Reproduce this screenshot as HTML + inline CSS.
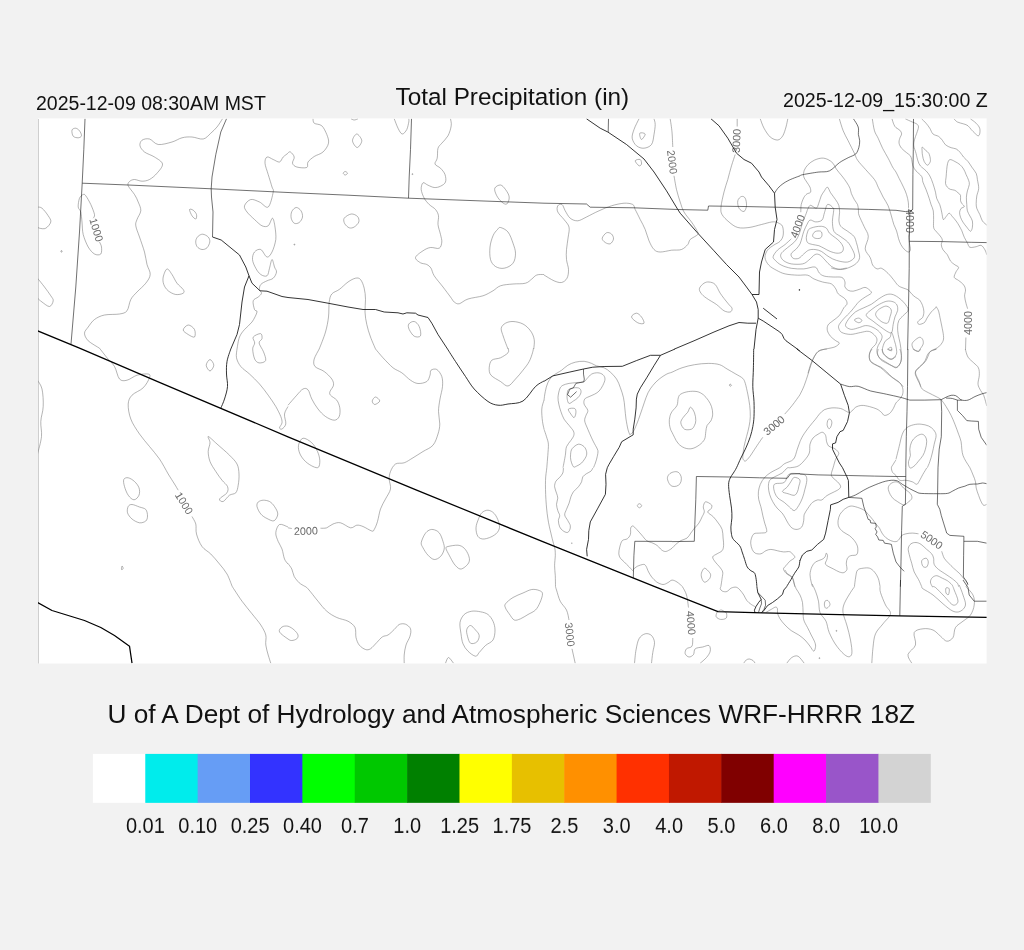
<!DOCTYPE html>
<html><head><meta charset="utf-8">
<style>
html,body{margin:0;padding:0;}
body{width:1024px;height:950px;background:#f2f2f2;position:relative;overflow:hidden;font-family:"Liberation Sans",sans-serif;color:#111;}
svg{position:absolute;left:0;top:0;will-change:transform;}
</style></head><body>
<svg id="lines" width="1024" height="950" viewBox="0 0 1024 950" fill="none">
<rect x="38" y="118.4" width="948.6" height="545.1" fill="#fff"/>
<rect x="38" y="119" width="1" height="544.5" fill="#cfcfcf"/>
<defs><clipPath id="mc"><rect x="38" y="118.4" width="948.6" height="545.1"/></clipPath></defs>
<g clip-path="url(#mc)">
<g stroke="#787878" stroke-width="0.56" fill="none">
<path d="M253.2,337.1 C254.2,335.5 259.1,333.4 260.6,333.6 C262.1,333.9 262.2,337.0 262.0,338.6 C261.8,340.2 258.9,340.8 259.1,343.0 C259.4,345.2 262.4,348.9 263.5,351.8 C264.6,354.7 266.3,358.8 265.6,360.6 C264.9,362.5 260.9,363.1 259.1,362.9 C257.3,362.6 255.8,361.4 254.7,359.1 C253.6,356.8 252.7,351.6 252.7,348.9 C252.7,346.2 254.6,345.0 254.7,343.0 C254.8,341.0 252.2,338.7 253.2,337.1Z"/>
<path d="M72.0,130.0 C72.4,128.7 74.5,128.1 75.8,128.2 C77.0,128.4 78.5,129.5 79.5,130.8 C80.5,132.0 81.7,134.6 81.5,135.8 C81.3,136.9 79.6,137.7 78.2,137.8 C76.9,137.8 74.3,137.5 73.2,136.2 C72.2,135.0 71.6,131.3 72.0,130.0Z"/>
<path d="M222.5,118.8 C221.6,120.1 219.0,124.6 217.0,127.0 C215.0,129.4 213.0,131.2 210.8,133.2 C208.5,135.2 206.4,138.4 203.2,139.0 C200.1,139.6 195.5,137.2 192.0,137.0 C188.5,136.8 185.3,136.9 182.0,137.8 C178.7,138.6 176.0,140.9 172.0,142.0 C168.0,143.1 162.0,145.0 158.2,144.5 C154.5,144.0 152.2,139.7 149.5,139.0 C146.8,138.3 143.6,139.1 142.0,140.2 C140.4,141.4 139.6,143.8 140.0,145.8 C140.4,147.7 142.1,150.1 144.5,152.0 C146.9,153.9 151.5,155.0 154.5,157.0 C157.5,159.0 162.1,161.3 162.5,164.0 C162.9,166.7 159.2,170.7 157.0,173.2 C154.8,175.8 152.0,178.2 149.5,179.5 C147.0,180.8 144.5,181.2 142.0,181.2 C139.5,181.2 136.6,179.5 134.5,179.5 C132.4,179.5 130.5,180.5 129.5,181.5 C128.5,182.5 127.4,183.6 128.2,185.8 C129.1,187.9 132.8,191.8 134.5,194.5 C136.2,197.2 137.2,199.3 138.2,202.0 C139.3,204.7 141.0,207.8 140.8,210.8 C140.5,213.7 137.8,217.0 137.0,219.5 C136.2,222.0 135.3,222.8 135.8,225.8 C136.2,228.7 138.0,232.6 139.5,237.0 C141.0,241.4 143.2,247.4 144.5,252.0 C145.8,256.6 146.0,260.8 147.0,264.5 C148.0,268.2 150.5,271.4 150.2,274.5 C150.0,277.6 148.0,280.3 145.8,283.2 C143.5,286.2 139.5,289.3 137.0,292.0 C134.5,294.7 132.4,296.4 130.8,299.5 C129.1,302.6 128.9,308.3 127.0,310.8 C125.1,313.2 123.2,313.3 119.5,314.0 C115.8,314.7 108.7,314.1 104.5,315.0 C100.3,315.9 97.2,317.5 94.5,319.5 C91.8,321.5 89.9,324.7 88.2,327.0 C86.6,329.3 84.5,331.0 84.5,333.2 C84.5,335.5 85.8,338.2 88.2,340.8 C90.8,343.2 97.6,347.0 99.5,348.2"/>
<path d="M93.2,218.2 C93.5,217.6 94.9,216.8 94.5,214.5 C94.1,212.2 92.2,207.6 90.8,204.5 C89.3,201.4 87.0,197.4 85.8,195.8 C84.5,194.1 84.3,194.1 83.2,194.5 C82.2,194.9 80.3,196.2 79.5,198.2 C78.7,200.3 78.0,204.7 78.2,207.0 C78.5,209.3 80.1,209.5 80.8,212.0 C81.4,214.5 81.6,218.2 82.0,222.0 C82.4,225.8 82.2,230.3 83.2,234.5 C84.3,238.7 86.4,243.8 88.2,247.0 C90.1,250.2 92.4,252.8 94.5,254.0 C96.6,255.2 99.6,255.2 100.8,254.0 C101.9,252.8 101.7,249.0 101.5,247.0 C101.3,245.0 99.8,242.8 99.5,242.0"/>
<path d="M37.5,207.0 C38.2,207.2 40.2,206.8 42.0,208.2 C43.8,209.7 46.8,213.5 48.2,215.8 C49.7,218.0 51.2,219.9 50.8,222.0 C50.3,224.1 47.6,227.2 45.8,228.2 C43.9,229.3 40.9,228.5 39.5,228.2 C38.1,228.0 37.8,227.2 37.5,227.0"/>
<path d="M37.5,278.2 C38.7,279.7 42.3,284.1 44.5,287.0 C46.7,289.9 49.3,293.5 50.8,295.8 C52.2,298.0 53.5,299.0 53.2,300.8 C53.0,302.5 51.4,306.3 49.5,306.5 C47.6,306.7 44.0,303.4 42.0,302.0 C40.0,300.6 38.2,298.9 37.5,298.2"/>
<path d="M61.0,250.8 C61.2,250.5 61.8,250.5 62.0,250.8 C62.2,251.0 62.2,251.8 62.0,252.0 C61.8,252.2 61.2,252.2 61.0,252.0 C60.8,251.8 60.8,251.0 61.0,250.8Z"/>
<path d="M189.5,209.5 C189.7,208.6 192.1,209.4 193.2,210.2 C194.4,211.1 196.1,213.0 196.5,214.5 C196.9,216.0 196.5,218.8 195.8,219.0 C195.0,219.2 193.0,217.3 192.0,215.8 C191.0,214.2 189.3,210.4 189.5,209.5Z"/>
<path d="M202.8,234.2 C204.4,234.4 207.1,235.7 208.2,237.0 C209.4,238.3 210.0,240.2 209.8,242.0 C209.5,243.8 208.3,246.5 207.0,247.8 C205.7,249.0 203.7,249.7 202.0,249.5 C200.3,249.3 198.0,248.0 197.0,246.5 C196.0,245.0 195.5,242.5 195.8,240.8 C196.0,239.0 197.1,237.3 198.2,236.2 C199.4,235.2 201.1,234.1 202.8,234.2Z"/>
<path d="M167.0,269.0 C168.5,268.6 170.3,272.1 172.0,274.5 C173.7,276.9 175.1,280.8 177.0,283.2 C178.9,285.8 182.2,287.8 183.2,289.5 C184.3,291.2 184.5,292.4 183.2,293.2 C182.0,294.1 178.2,294.9 175.8,294.5 C173.2,294.1 170.2,292.4 168.2,290.8 C166.2,289.1 164.6,286.8 163.8,284.5 C162.9,282.2 162.7,279.6 163.2,277.0 C163.8,274.4 165.5,269.4 167.0,269.0Z"/>
<path d="M188.2,325.0 C190.1,324.9 193.5,327.5 194.5,329.5 C195.5,331.5 195.5,336.2 194.5,337.0 C193.5,337.8 190.1,335.7 188.2,334.5 C186.4,333.3 183.2,331.6 183.2,330.0 C183.2,328.4 186.4,325.1 188.2,325.0Z"/>
<path d="M288.0,153.2 C287.2,153.9 284.7,155.5 283.2,157.0 C281.8,158.5 281.2,161.6 279.5,162.0 C277.8,162.4 275.3,160.3 273.2,159.5 C271.2,158.7 268.4,156.4 267.0,157.0 C265.6,157.6 264.8,160.3 265.0,163.2 C265.2,166.2 267.1,170.5 268.2,174.5 C269.4,178.5 271.2,184.1 272.0,187.0 C272.8,189.9 273.9,188.7 273.2,192.0 C272.6,195.3 270.5,205.3 268.2,207.0 C266.0,208.7 262.4,203.2 259.5,202.0 C256.6,200.8 253.2,198.9 250.8,199.5 C248.2,200.1 245.1,203.7 244.5,205.8 C243.9,207.8 245.3,209.7 247.0,212.0 C248.7,214.3 252.0,217.2 254.5,219.5 C257.0,221.8 259.7,224.7 262.0,225.8 C264.3,226.8 266.5,227.0 268.2,225.8 C270.0,224.5 271.4,218.0 272.5,218.2 C273.6,218.5 274.5,223.5 275.0,227.0 C275.5,230.5 276.2,235.3 275.8,239.5 C275.2,243.7 273.5,249.1 272.0,252.0 C270.5,254.9 268.9,257.4 267.0,257.0 C265.1,256.6 262.8,250.3 260.8,249.5 C258.7,248.7 255.9,250.3 254.5,252.0 C253.1,253.7 252.3,256.8 252.5,259.5 C252.7,262.2 254.4,265.8 255.8,268.2 C257.1,270.8 258.9,273.2 260.8,274.5 C262.6,275.8 265.5,276.8 267.0,275.8 C268.5,274.7 268.7,271.0 269.5,268.2 C270.3,265.5 271.2,259.7 272.0,259.5 C272.8,259.3 273.8,264.9 274.5,267.0 C275.2,269.1 276.7,270.1 276.5,272.0 C276.3,273.9 274.8,276.8 273.2,278.2 C271.7,279.7 269.1,279.7 267.0,280.8 C264.9,281.8 262.0,283.0 260.8,284.5 C259.5,286.0 259.4,288.0 259.5,289.5 C259.6,291.0 261.7,292.0 261.5,293.2 C261.3,294.5 259.6,295.8 258.2,297.0 C256.9,298.2 253.9,298.7 253.2,300.8 C252.6,302.8 253.9,307.6 254.5,309.5 C255.1,311.4 257.4,309.9 257.0,312.0 C256.6,314.1 254.1,319.1 252.0,322.0 C249.9,324.9 246.6,327.0 244.5,329.5 C242.4,332.0 240.8,333.8 239.5,337.0 C238.2,340.2 237.4,347.0 237.0,349.0"/>
<path d="M99.5,348.2 C100.8,349.8 104.5,354.7 107.0,357.8 C109.5,360.8 112.4,363.0 114.5,366.5 C116.6,370.0 117.4,376.7 119.5,379.0 C121.6,381.3 124.1,380.9 127.0,380.2 C129.9,379.6 133.5,376.3 137.0,375.2 C140.5,374.2 146.2,373.6 148.2,374.0 C150.3,374.4 150.3,375.5 149.5,377.8 C148.7,380.0 146.2,384.8 143.2,387.8 C140.3,390.7 134.5,392.5 132.0,395.2 C129.5,398.0 128.5,400.0 128.2,404.0 C128.0,408.0 128.9,414.0 130.8,419.0 C132.6,424.0 136.4,429.4 139.5,434.0 C142.6,438.6 146.2,442.3 149.5,446.5 C152.8,450.7 156.4,454.4 159.5,459.0 C162.6,463.6 165.8,469.8 168.2,474.0 C170.8,478.2 172.8,481.3 174.5,484.0 C176.2,486.7 177.6,489.2 178.2,490.2"/>
<path d="M192.0,516.5 C192.6,517.8 195.0,521.1 195.8,524.0 C196.5,526.9 195.5,530.2 196.5,534.0 C197.5,537.8 199.6,543.2 202.0,546.5 C204.4,549.8 207.8,551.1 210.8,554.0 C213.7,556.9 216.8,560.7 219.5,564.0 C222.2,567.3 224.9,570.3 227.0,574.0 C229.1,577.7 231.2,584.0 232.0,586.0"/>
<path d="M37.5,380.2 C38.2,381.7 41.0,384.6 42.0,389.0 C43.0,393.4 43.5,401.1 43.2,406.5 C43.0,411.9 41.0,416.5 40.8,421.5 C40.5,426.5 42.0,431.1 41.5,436.5 C41.0,441.9 38.2,451.1 37.5,454.0"/>
<path d="M210.0,359.5 C211.2,359.5 213.8,363.3 213.8,365.2 C213.8,367.2 211.2,371.0 210.0,371.0 C208.8,371.0 206.2,367.2 206.2,365.2 C206.2,363.3 208.8,359.5 210.0,359.5Z"/>
<path d="M237.0,349.0 C236.9,350.5 235.9,354.8 236.5,357.8 C237.1,360.7 238.6,363.8 240.8,366.5 C242.9,369.2 246.4,371.1 249.5,374.0 C252.6,376.9 256.4,380.5 259.5,384.0 C262.6,387.5 265.5,391.5 268.2,395.2 C271.0,399.0 273.7,403.0 275.8,406.5 C277.8,410.0 279.7,413.8 280.8,416.5 C281.8,419.2 282.2,420.9 282.0,422.8 C281.8,424.6 279.5,426.7 279.5,427.8 C279.5,428.8 281.0,429.6 282.0,429.0 C283.0,428.4 285.3,426.5 285.8,424.0 C286.2,421.5 284.1,416.9 284.5,414.0 C284.9,411.1 287.4,407.8 288.0,406.5"/>
<path d="M208.2,436.5 C209.4,436.7 213.5,440.9 217.0,444.0 C220.5,447.1 226.2,451.9 229.5,455.2 C232.8,458.6 235.4,460.9 237.0,464.0 C238.6,467.1 238.8,470.5 239.0,474.0 C239.2,477.5 238.8,482.1 238.2,485.2 C237.7,488.4 237.2,491.1 235.8,492.8 C234.3,494.4 231.6,493.8 229.5,495.2 C227.4,496.7 224.9,500.9 223.2,501.5 C221.6,502.1 218.9,500.5 219.5,499.0 C220.1,497.5 225.7,494.8 227.0,492.8 C228.3,490.7 228.3,488.6 227.5,486.5 C226.7,484.4 224.0,482.8 222.0,480.2 C220.0,477.8 217.8,474.6 215.8,471.5 C213.8,468.4 211.2,464.8 210.0,461.5 C208.8,458.2 208.2,454.6 208.2,451.5 C208.2,448.4 210.0,445.2 210.0,442.8 C210.0,440.2 207.1,436.3 208.2,436.5Z"/>
<path d="M128.2,477.8 C130.0,478.1 132.7,479.8 134.5,481.5 C136.3,483.2 138.2,485.5 139.0,487.8 C139.8,490.0 139.8,493.2 139.0,495.2 C138.2,497.2 135.8,499.8 134.0,499.8 C132.2,499.8 129.8,497.5 128.2,495.2 C126.7,493.0 125.2,489.1 124.5,486.5 C123.8,483.9 123.1,481.0 123.8,479.5 C124.4,478.0 126.5,477.4 128.2,477.8Z"/>
<path d="M132.0,504.5 C133.9,504.6 137.2,506.2 139.5,507.0 C141.8,507.8 144.4,508.0 145.8,509.5 C147.1,511.0 147.5,514.1 147.5,516.0 C147.5,517.9 147.1,519.9 145.8,521.0 C144.4,522.1 141.8,523.1 139.5,522.8 C137.2,522.4 134.0,520.7 132.0,519.0 C130.0,517.3 128.1,514.8 127.5,512.8 C126.9,510.7 127.5,507.9 128.2,506.5 C129.0,505.1 130.1,504.4 132.0,504.5Z"/>
<path d="M263.2,500.2 C265.1,500.2 267.6,500.5 269.5,501.5 C271.4,502.5 273.1,504.4 274.5,506.5 C275.9,508.6 277.8,511.6 277.8,514.0 C277.7,516.4 275.8,520.0 274.0,520.8 C272.2,521.5 269.2,519.6 267.0,518.5 C264.8,517.4 262.4,516.0 260.8,514.0 C259.1,512.0 257.4,508.5 257.0,506.5 C256.6,504.5 257.2,503.0 258.2,502.0 C259.3,501.0 261.4,500.3 263.2,500.2Z"/>
<path d="M288.0,527.0 C286.6,526.6 281.5,523.5 279.5,524.5 C277.5,525.5 276.0,529.9 275.8,532.8 C275.5,535.6 277.2,538.8 278.2,541.5 C279.3,544.2 281.0,546.1 282.0,549.0 C283.0,551.9 283.5,556.5 284.5,559.0 C285.5,561.5 287.4,563.2 288.0,564.0"/>
<path d="M122.0,566.0 C122.3,565.8 123.3,567.9 123.2,568.5 C123.2,569.1 121.7,569.9 121.5,569.5 C121.3,569.1 121.7,566.2 122.0,566.0Z"/>
<path d="M232.0,586.0 C232.4,586.7 232.8,587.5 234.5,590.0 C236.2,592.5 239.1,597.3 242.0,601.2 C244.9,605.2 248.9,609.8 252.0,613.8 C255.1,617.7 258.5,621.5 260.8,625.0 C263.0,628.5 264.9,631.7 265.8,635.0 C266.6,638.3 265.3,641.7 265.8,645.0 C266.2,648.3 267.4,652.0 268.2,655.0 C269.1,658.0 270.3,661.9 270.8,663.2"/>
<path d="M304.2,586.0 C304.9,586.5 305.7,586.2 308.0,588.8 C310.3,591.3 314.9,597.5 318.0,601.2 C321.1,605.0 323.6,608.5 326.8,611.2 C329.9,614.0 333.2,615.8 336.8,617.5 C340.3,619.2 345.0,619.6 348.0,621.2 C351.0,622.9 353.7,624.8 355.0,627.5 C356.3,630.2 355.3,634.6 356.0,637.5 C356.7,640.4 357.7,643.0 359.2,645.0 C360.8,647.0 363.6,648.9 365.5,649.5 C367.4,650.1 368.6,649.9 370.5,648.8 C372.4,647.6 374.8,644.5 376.8,642.5 C378.8,640.5 380.6,638.0 382.5,636.8 C384.4,635.5 386.0,636.2 388.0,635.0 C390.0,633.8 392.4,631.2 394.2,629.5 C396.1,627.8 397.4,625.4 399.2,624.5 C401.1,623.6 403.6,623.5 405.5,624.2 C407.4,625.0 409.8,626.8 410.5,628.8 C411.2,630.8 410.8,633.5 410.0,636.2 C409.2,639.0 407.0,641.9 406.0,645.0 C405.0,648.1 404.5,652.0 404.2,655.0 C404.0,658.0 404.2,661.9 404.2,663.2"/>
<path d="M288.0,626.2 C290.0,626.8 292.6,628.5 294.2,630.0 C295.9,631.5 297.6,633.5 298.0,635.0 C298.4,636.5 297.8,637.8 296.8,638.8 C295.7,639.7 293.2,640.5 291.8,640.5 C290.3,640.5 290.0,640.4 288.0,639.0 C286.0,637.6 280.5,634.0 279.5,632.0 C278.5,630.0 280.6,628.0 282.0,627.0 C283.4,626.0 286.0,625.8 288.0,626.2Z"/>
<path d="M471.8,611.2 C474.5,610.8 477.8,611.2 480.5,611.8 C483.2,612.3 485.9,612.9 488.0,614.5 C490.1,616.1 491.8,618.7 493.0,621.2 C494.2,623.8 495.0,626.9 495.0,630.0 C495.0,633.1 494.6,637.4 493.0,640.0 C491.4,642.6 487.8,643.4 485.5,645.5 C483.2,647.6 480.9,650.7 479.2,652.5 C477.6,654.3 477.4,656.5 475.5,656.2 C473.6,656.0 470.1,653.3 468.0,651.2 C465.9,649.2 464.2,646.7 463.0,643.8 C461.8,640.8 461.5,637.3 461.0,633.8 C460.5,630.2 459.5,625.7 460.0,622.5 C460.5,619.3 462.3,616.4 464.2,614.5 C466.2,612.6 469.0,611.7 471.8,611.2Z"/>
<path d="M470.5,625.5 C472.0,625.6 474.0,628.3 475.5,630.0 C477.0,631.7 479.0,633.5 479.2,635.5 C479.5,637.5 478.2,640.7 476.8,642.0 C475.3,643.3 472.0,644.2 470.5,643.2 C469.0,642.3 468.1,638.5 467.5,636.2 C466.9,634.0 466.2,631.3 466.8,629.5 C467.2,627.7 469.0,625.4 470.5,625.5Z"/>
<path d="M505.5,603.8 C506.8,602.0 510.1,599.3 513.0,597.5 C515.9,595.7 519.9,594.3 523.0,593.0 C526.1,591.7 529.0,589.9 531.8,589.5 C534.5,589.1 537.5,589.8 539.2,590.5 C541.0,591.2 542.4,591.8 542.5,593.8 C542.6,595.8 541.2,599.8 540.0,602.5 C538.8,605.2 537.5,608.0 535.5,610.0 C533.5,612.0 530.5,613.0 528.0,614.5 C525.5,616.0 522.8,617.8 520.5,618.8 C518.2,619.7 516.1,620.8 514.2,620.0 C512.4,619.2 510.7,615.8 509.2,613.8 C507.8,611.8 506.1,609.7 505.5,608.0 C504.9,606.3 504.2,605.5 505.5,603.8Z"/>
<path d="M445.5,663.2 C446.0,662.3 447.2,657.5 448.5,657.5 C449.8,657.5 452.7,662.3 453.5,663.2"/>
<path d="M555.5,586.8 C555.7,587.3 555.7,587.6 556.5,590.0 C557.3,592.4 558.6,597.9 560.2,601.2 C561.9,604.6 565.0,606.9 566.5,610.0 C568.0,613.1 568.6,618.3 569.0,620.0"/>
<path d="M572.0,648.8 L575.2,663.2"/>
<path d="M682.5,586.8 C683.2,588.1 685.5,591.5 686.5,595.0 C687.5,598.5 688.2,605.4 688.5,607.5"/>
<path d="M692.8,638.0 C692.6,639.4 693.0,644.5 692.0,646.2 C691.0,648.0 687.6,647.5 686.5,648.8 C685.4,650.0 684.8,652.4 685.2,653.8 C685.7,655.1 687.6,656.9 689.0,657.0 C690.4,657.1 692.5,655.9 693.5,654.5 C694.5,653.1 693.7,650.0 695.2,648.8 C696.8,647.5 700.5,647.5 702.8,647.0 C705.0,646.5 707.8,644.8 709.0,645.5 C710.2,646.2 710.7,649.2 710.2,651.2 C709.8,653.2 708.2,655.5 706.5,657.5 C704.8,659.5 701.3,662.3 700.2,663.2"/>
<path d="M634.5,663.2 C634.8,661.0 635.2,654.1 636.0,650.0 C636.8,645.9 637.5,641.5 639.0,638.8 C640.5,636.0 643.2,634.3 645.2,633.8 C647.3,633.2 650.0,634.0 651.5,635.5 C653.0,637.0 654.3,639.7 654.5,642.5 C654.7,645.3 653.2,649.0 652.8,652.5 C652.2,656.0 651.7,661.5 651.5,663.2"/>
<path d="M720.9,586.8 C720.8,587.1 720.0,588.0 720.2,588.8 C720.5,589.5 721.4,590.8 722.5,591.2 C723.6,591.7 725.4,592.0 726.9,591.5 C728.3,591.0 729.7,588.8 731.2,588.1 C732.8,587.4 734.8,586.9 736.2,587.2 C737.7,587.6 738.8,588.7 740.0,590.0 C741.2,591.3 742.6,593.2 743.8,595.0 C744.9,596.8 745.6,599.1 746.9,600.6 C748.1,602.2 749.8,603.3 751.2,604.4 C752.7,605.4 754.9,606.5 755.6,606.9"/>
<path d="M718.1,611.2 C717.9,611.5 717.2,611.6 716.9,612.5 C716.6,613.4 715.6,615.7 716.2,616.9 C716.9,618.0 719.0,619.2 720.6,619.4 C722.3,619.6 725.3,619.2 726.2,618.1 C727.2,617.1 726.7,614.2 726.5,613.1 C726.3,612.1 725.9,612.4 725.0,611.9 C724.1,611.4 722.4,610.1 721.2,610.0 C720.1,609.9 718.6,611.0 718.1,611.2"/>
<path d="M785.0,570.0 C785.4,570.6 786.4,572.6 787.5,573.8 C788.6,574.9 790.8,575.4 791.9,576.9 C792.9,578.3 793.0,580.5 793.8,582.5 C794.5,584.5 795.2,586.7 796.2,588.8 C797.3,590.8 799.0,592.7 800.0,595.0 C801.0,597.3 802.0,599.6 802.5,602.5 C803.0,605.4 802.9,609.6 803.1,612.5 C803.3,615.4 803.0,617.5 803.8,620.0 C804.5,622.5 806.2,625.0 807.5,627.5 C808.8,630.0 810.1,632.7 811.2,635.0 C812.4,637.3 813.6,639.4 814.4,641.2 C815.1,643.1 815.7,644.6 815.6,646.2 C815.5,647.9 814.7,651.2 813.8,651.2 C812.8,651.2 811.5,648.1 810.0,646.2 C808.5,644.4 806.9,641.9 805.0,640.0 C803.1,638.1 801.0,636.6 798.8,635.0 C796.5,633.4 793.5,632.3 791.2,630.6 C789.0,629.0 786.9,627.0 785.0,625.0 C783.1,623.0 781.2,620.7 780.0,618.8 C778.8,616.8 777.9,614.8 777.5,613.1 C777.1,611.5 777.8,609.8 777.5,608.8 C777.2,607.8 776.7,607.0 775.6,607.1 C774.6,607.2 772.8,608.5 771.2,609.4 C769.7,610.2 767.1,611.8 766.2,612.2"/>
<path d="M828.0,600.6 C827.2,600.1 825.6,600.5 825.0,601.2 C824.4,602.0 824.3,603.9 824.4,605.0 C824.5,606.1 825.0,607.7 825.6,608.1 C826.2,608.5 827.3,608.1 828.0,607.5 C828.7,606.9 830.0,605.5 830.0,604.4 C830.0,603.2 828.8,601.1 828.0,600.6Z"/>
<path d="M743.8,663.1 C744.2,662.6 745.3,660.7 746.2,660.0 C747.2,659.3 748.2,658.9 749.4,659.0 C750.5,659.1 752.2,659.9 753.1,660.6 C754.1,661.3 754.7,662.7 755.0,663.1"/>
<path d="M812.0,583.8 C812.6,585.0 814.4,588.3 815.5,591.2 C816.6,594.2 817.8,597.7 818.5,601.2 C819.2,604.8 818.8,609.2 820.0,612.5 C821.2,615.8 824.5,617.9 826.0,621.2 C827.5,624.6 827.5,628.3 829.2,632.5 C831.0,636.7 833.8,642.3 836.8,646.2 C839.7,650.2 844.2,655.0 846.8,656.2 C849.2,657.5 851.1,656.5 851.8,653.8 C852.4,651.0 851.3,644.8 850.5,640.0 C849.7,635.2 848.0,629.6 846.8,625.0 C845.5,620.4 843.4,616.0 843.0,612.5 C842.6,609.0 843.0,607.1 844.2,603.8 C845.5,600.4 848.8,595.3 850.5,592.5 C852.2,589.7 853.8,587.7 854.5,586.8"/>
<path d="M880.0,586.8 C880.1,587.7 879.6,589.5 880.5,592.5 C881.4,595.5 883.8,601.5 885.5,605.0 C887.2,608.5 890.9,610.6 890.5,613.8 C890.1,616.9 885.5,620.4 883.0,623.8 C880.5,627.1 877.2,629.8 875.5,633.8 C873.8,637.7 873.6,642.6 873.0,647.5 C872.4,652.4 872.0,660.6 871.8,663.2"/>
<path d="M921.8,586.8 C922.0,587.1 921.1,587.4 923.0,588.8 C924.9,590.1 929.7,592.5 933.0,595.0 C936.3,597.5 939.7,601.0 943.0,603.8 C946.3,606.5 950.1,610.0 953.0,611.2 C955.9,612.5 958.4,612.3 960.5,611.2 C962.6,610.2 965.1,607.7 965.5,605.0 C965.9,602.3 964.0,598.3 963.0,595.0 C962.0,591.7 959.9,586.7 959.2,585.0"/>
<path d="M932.2,586.8 C932.8,586.9 933.5,585.9 935.5,587.5 C937.5,589.1 941.3,593.3 944.2,596.2 C947.2,599.2 950.7,604.2 953.0,605.0 C955.3,605.8 957.8,603.8 958.0,601.2 C958.2,598.8 955.1,592.4 954.2,590.0 C953.4,587.6 953.2,587.3 953.0,586.8"/>
<path d="M946.0,588.0 C946.5,587.3 948.8,587.7 949.2,588.8 C949.7,589.8 949.0,593.8 948.5,594.5 C948.0,595.2 946.4,594.1 946.0,593.0 C945.6,591.9 945.5,588.7 946.0,588.0Z"/>
<path d="M966.0,586.8 C967.2,588.1 971.6,592.0 973.0,595.0 C974.4,598.0 974.7,601.7 974.2,605.0 C973.8,608.3 972.4,612.3 970.5,615.0 C968.6,617.7 965.5,619.2 963.0,621.2 C960.5,623.3 957.2,624.8 955.5,627.5 C953.8,630.2 954.5,635.2 953.0,637.5 C951.5,639.8 948.8,641.5 946.8,641.2 C944.7,641.0 942.8,638.1 940.5,636.2 C938.2,634.4 935.9,631.2 933.0,630.0 C930.1,628.8 926.1,628.3 923.0,628.8 C919.9,629.2 915.5,629.8 914.2,632.5 C913.0,635.2 916.5,641.3 915.5,645.0 C914.5,648.7 908.6,651.5 908.0,654.5 C907.4,657.5 911.1,661.8 911.8,663.2"/>
<path d="M786.8,663.2 C787.6,662.3 789.9,658.7 791.8,657.5 C793.6,656.3 795.9,655.3 798.0,656.2 C800.1,657.2 803.2,662.1 804.2,663.2"/>
<path d="M836.0,630.5 C836.1,630.4 836.6,630.4 836.8,630.5 C836.9,630.6 836.9,631.1 836.8,631.2 C836.6,631.4 836.1,631.4 836.0,631.2 C835.9,631.1 835.9,630.6 836.0,630.5Z"/>
<path d="M819.0,657.8 C819.1,657.6 819.6,657.6 819.8,657.8 C819.9,657.9 819.9,658.4 819.8,658.5 C819.6,658.6 819.1,658.6 819.0,658.5 C818.9,658.4 818.9,657.9 819.0,657.8Z"/>
<path d="M313.0,118.8 C313.2,119.5 312.8,122.1 314.2,123.2 C315.7,124.4 319.7,123.9 321.8,125.8 C323.8,127.6 325.6,131.6 326.8,134.5 C327.9,137.4 329.1,140.3 328.5,143.2 C327.9,146.2 325.4,149.8 323.0,152.0 C320.6,154.2 316.8,154.8 314.2,156.5 C311.8,158.2 309.2,160.2 308.0,162.0 C306.8,163.8 308.6,166.7 306.8,167.5 C304.9,168.3 299.1,167.7 296.8,167.0 C294.4,166.3 292.9,164.9 292.5,163.2 C292.1,161.6 294.6,158.9 294.2,157.0 C293.9,155.1 291.5,152.7 290.5,152.0 C289.5,151.3 288.4,152.6 288.0,152.8"/>
<path d="M356.8,134.0 C358.3,134.0 361.7,138.5 361.8,140.8 C361.8,143.0 358.8,147.5 357.2,147.5 C355.7,147.5 352.6,143.0 352.5,140.8 C352.4,138.5 355.2,134.0 356.8,134.0Z"/>
<path d="M394.2,118.8 C394.9,120.3 396.7,125.7 398.0,128.2 C399.3,130.8 400.8,133.8 402.2,134.0 C403.7,134.2 405.7,131.5 406.8,129.5 C407.8,127.5 408.4,123.8 408.8,122.0 C409.1,120.2 408.8,119.3 408.8,118.8"/>
<path d="M351.0,118.8 C351.5,119.0 353.1,120.0 354.2,120.0 C355.4,120.0 357.4,119.0 358.0,118.8"/>
<path d="M345.2,171.5 C346.0,171.5 347.5,172.7 347.5,173.2 C347.5,173.8 346.0,175.0 345.2,175.0 C344.5,175.0 343.2,173.8 343.2,173.2 C343.2,172.7 344.5,171.5 345.2,171.5Z"/>
<path d="M450.5,118.8 C450.6,119.9 451.7,122.9 451.2,125.8 C450.8,128.6 449.6,132.8 448.0,135.8 C446.4,138.7 443.4,141.2 441.8,143.2 C440.1,145.3 438.8,145.8 438.0,148.2 C437.2,150.8 437.8,155.6 437.2,158.2 C436.8,160.9 434.5,162.3 435.0,164.0 C435.5,165.7 438.8,166.5 440.5,168.2 C442.2,170.0 444.2,172.2 445.0,174.5 C445.8,176.8 446.2,180.0 445.5,182.0 C444.8,184.0 442.4,185.3 440.5,186.2 C438.6,187.2 436.3,187.7 434.2,187.5 C432.2,187.3 429.9,186.0 428.0,185.2 C426.1,184.5 424.1,182.0 423.0,182.8 C421.9,183.5 421.0,186.9 421.2,189.5 C421.5,192.1 422.9,195.8 424.2,198.2 C425.6,200.8 427.4,202.6 429.2,204.5 C431.1,206.4 434.0,207.6 435.5,209.5 C437.0,211.4 438.1,213.2 438.5,215.8 C438.9,218.2 437.7,221.4 438.0,224.5 C438.3,227.6 439.9,231.6 440.5,234.5 C441.1,237.4 442.0,239.7 441.8,242.0 C441.5,244.3 441.1,247.3 439.2,248.2 C437.4,249.2 433.2,247.1 430.5,247.5 C427.8,247.9 425.5,249.1 423.0,250.8 C420.5,252.4 415.9,255.5 415.5,257.5 C415.1,259.5 418.6,261.6 420.5,262.8 C422.4,263.9 425.0,263.6 426.8,264.5 C428.5,265.4 429.8,266.4 431.0,268.2 C432.2,270.1 432.2,272.6 434.2,275.8 C436.2,278.9 440.3,283.5 443.0,287.0 C445.7,290.5 448.6,294.5 450.5,297.0 C452.4,299.5 452.8,300.9 454.2,302.0 C455.7,303.1 457.0,304.2 459.2,303.8 C461.5,303.2 464.0,300.3 468.0,299.0 C472.0,297.7 478.8,297.1 483.0,295.8 C487.2,294.4 490.1,292.4 493.0,290.8 C495.9,289.1 497.2,286.9 500.5,285.8 C503.8,284.6 508.8,284.4 513.0,284.0 C517.2,283.6 522.4,284.1 525.5,283.2 C528.6,282.4 529.9,280.4 531.8,279.0 C533.6,277.6 534.7,275.8 536.8,275.0 C538.8,274.2 542.8,274.6 544.0,274.5"/>
<path d="M412.0,173.8 C412.1,173.6 412.6,173.6 412.8,173.8 C412.9,173.9 412.9,174.4 412.8,174.5 C412.6,174.6 412.1,174.6 412.0,174.5 C411.9,174.4 411.9,173.9 412.0,173.8Z"/>
<path d="M500.5,185.0 C502.3,185.2 504.0,187.5 505.5,189.5 C507.0,191.5 509.0,194.6 509.2,197.0 C509.5,199.4 508.0,203.2 506.8,204.0 C505.5,204.8 503.4,203.4 501.8,202.0 C500.1,200.6 497.9,198.0 496.8,195.8 C495.6,193.5 494.1,190.0 494.8,188.2 C495.4,186.5 498.7,184.8 500.5,185.0Z"/>
<path d="M296.2,207.5 C297.8,207.4 300.0,209.2 301.0,210.8 C302.0,212.3 302.8,215.0 302.5,217.0 C302.2,219.0 300.6,221.5 299.2,222.5 C297.9,223.5 295.6,224.0 294.2,223.2 C292.9,222.5 291.7,220.2 291.2,218.2 C290.8,216.3 290.9,213.3 291.8,211.5 C292.6,209.7 294.7,207.6 296.2,207.5Z"/>
<path d="M351.2,214.0 C353.5,213.7 356.2,215.2 357.5,216.5 C358.8,217.8 359.3,220.2 358.8,222.0 C358.2,223.8 355.8,226.0 354.2,227.0 C352.7,228.0 350.8,228.3 349.2,227.8 C347.7,227.2 345.6,225.3 344.8,223.8 C343.9,222.2 343.2,219.9 344.2,218.2 C345.3,216.6 349.0,214.3 351.2,214.0Z"/>
<path d="M294.0,244.2 C294.1,244.1 294.6,244.1 294.8,244.2 C294.9,244.4 294.9,244.9 294.8,245.0 C294.6,245.1 294.1,245.1 294.0,245.0 C293.9,244.9 293.9,244.4 294.0,244.2Z"/>
<path d="M500.5,227.5 C502.2,227.9 505.9,229.4 508.0,232.0 C510.1,234.6 511.8,239.7 513.0,243.2 C514.2,246.8 515.5,249.9 515.5,253.2 C515.5,256.6 514.9,260.8 513.0,263.2 C511.1,265.8 507.2,267.7 504.2,268.2 C501.3,268.8 497.8,268.0 495.5,266.5 C493.2,265.0 491.4,262.8 490.5,259.5 C489.6,256.2 489.6,251.0 490.0,247.0 C490.4,243.0 491.8,238.7 493.0,235.8 C494.2,232.8 496.2,230.9 497.5,229.5 C498.8,228.1 498.8,227.1 500.5,227.5Z"/>
<path d="M319.2,349.0 C320.3,346.2 324.0,337.3 325.5,332.0 C327.0,326.7 327.9,322.0 328.5,317.0 C329.1,312.0 328.7,305.8 329.2,302.0 C329.8,298.2 330.1,296.1 331.8,294.0 C333.4,291.9 336.5,291.5 339.2,289.5 C342.0,287.5 345.3,283.9 348.0,282.0 C350.7,280.1 353.4,278.7 355.5,278.2 C357.6,277.8 359.0,277.8 360.5,279.5 C362.0,281.2 363.4,284.9 364.2,288.2 C365.1,291.6 365.4,295.5 365.5,299.5 C365.6,303.5 364.8,307.8 365.0,312.0 C365.2,316.2 365.8,320.3 366.8,324.5 C367.7,328.7 369.0,332.9 370.5,337.0 C372.0,341.1 374.7,347.0 375.5,349.0"/>
<path d="M414.2,321.5 C416.0,321.9 418.2,324.1 419.2,326.5 C420.3,328.9 421.3,334.1 420.5,335.8 C419.7,337.4 416.1,337.3 414.2,336.2 C412.4,335.2 410.2,331.5 409.2,329.5 C408.3,327.5 407.9,325.3 408.8,324.0 C409.6,322.7 412.5,321.1 414.2,321.5Z"/>
<path d="M508.0,349.0 C507.2,347.0 504.6,340.5 503.5,337.0 C502.4,333.5 500.9,330.5 501.2,328.2 C501.6,326.0 503.5,324.4 505.5,323.2 C507.5,322.1 510.1,321.4 513.0,321.5 C515.9,321.6 520.1,322.5 523.0,324.0 C525.9,325.5 528.6,328.2 530.5,330.8 C532.4,333.3 533.7,336.5 534.2,339.5 C534.8,342.5 533.8,347.4 533.8,349.0"/>
<path d="M319.2,349.0 C318.4,350.7 315.0,356.1 314.2,359.0 C313.5,361.9 313.3,364.4 315.0,366.5 C316.7,368.6 321.5,369.4 324.2,371.5 C327.0,373.6 330.2,376.7 331.8,379.0 C333.3,381.3 333.8,383.2 333.5,385.2 C333.2,387.3 330.5,389.8 330.0,391.5 C329.5,393.2 329.4,393.8 330.5,395.2 C331.6,396.7 335.2,398.2 336.8,400.2 C338.3,402.3 339.3,405.0 339.8,407.8 C340.2,410.5 340.2,414.4 339.2,416.5 C338.3,418.6 336.5,420.2 334.2,420.2 C332.0,420.2 328.2,418.4 325.5,416.5 C322.8,414.6 320.3,411.9 318.0,409.0 C315.7,406.1 313.4,402.2 311.8,399.0 C310.1,395.8 309.5,391.4 308.0,389.8 C306.5,388.1 304.9,388.1 303.0,389.0 C301.1,389.9 299.2,392.5 296.8,395.2 C294.2,398.0 289.5,403.6 288.0,405.2"/>
<path d="M375.5,349.0 C376.8,350.5 380.1,354.6 383.0,357.8 C385.9,360.9 389.9,365.2 393.0,367.8 C396.1,370.2 398.8,370.7 401.8,372.8 C404.7,374.8 407.8,378.5 410.5,380.2 C413.2,382.0 415.3,383.3 418.0,383.5 C420.7,383.7 424.8,382.9 426.8,381.5 C428.8,380.1 429.3,377.1 430.0,375.2 C430.7,373.4 429.9,371.2 431.0,370.2 C432.1,369.3 435.0,368.5 436.8,369.5 C438.5,370.5 440.8,373.7 441.8,376.5 C442.7,379.3 442.8,382.8 442.5,386.5 C442.2,390.2 440.7,394.8 440.0,399.0 C439.3,403.2 438.5,407.3 438.5,411.5 C438.5,415.7 439.8,420.2 439.8,424.0 C439.7,427.8 439.1,430.5 438.0,434.0 C436.9,437.5 435.5,442.3 433.0,445.2 C430.5,448.2 426.3,449.4 423.0,451.5 C419.7,453.6 416.1,455.9 413.0,457.8 C409.9,459.6 407.2,461.7 404.2,462.8 C401.3,463.8 397.8,462.5 395.5,464.0 C393.2,465.5 391.5,469.0 390.5,471.5 C389.5,474.0 389.2,476.1 389.2,479.0 C389.2,481.9 391.1,485.7 390.5,489.0 C389.9,492.3 387.2,495.7 385.5,499.0 C383.8,502.3 381.8,505.2 380.5,509.0 C379.2,512.8 378.5,518.1 377.5,521.5 C376.5,524.9 375.2,527.9 374.2,529.5 C373.3,531.1 373.6,531.5 371.8,531.0 C369.9,530.5 365.5,527.5 363.0,526.5 C360.5,525.5 358.8,525.0 356.8,525.2 C354.7,525.5 353.2,528.2 350.5,527.8 C347.8,527.3 343.4,523.4 340.5,522.8 C337.6,522.1 335.3,523.2 333.0,524.0 C330.7,524.8 328.8,527.0 326.8,527.8 C324.7,528.5 321.5,528.2 320.5,528.2"/>
<path d="M291.8,528.5 L288.0,527.8"/>
<path d="M375.5,397.0 C376.8,397.0 379.9,399.8 379.8,401.0 C379.6,402.2 376.0,404.5 374.8,404.5 C373.5,404.5 372.1,402.2 372.2,401.0 C372.4,399.8 374.2,397.0 375.5,397.0Z"/>
<path d="M303.0,438.2 C305.2,437.8 309.3,440.5 311.8,442.8 C314.2,445.0 316.2,448.6 317.5,451.5 C318.8,454.4 319.6,457.6 319.8,460.2 C319.9,462.9 319.6,466.2 318.5,467.2 C317.4,468.3 315.2,467.5 313.0,466.5 C310.8,465.5 307.7,463.6 305.5,461.5 C303.3,459.4 301.2,456.7 300.0,454.0 C298.8,451.3 298.0,447.9 298.5,445.2 C299.0,442.6 300.8,438.7 303.0,438.2Z"/>
<path d="M508.2,348.2 C508.2,349.0 509.3,351.2 508.0,352.8 C506.7,354.3 503.2,356.5 500.5,357.8 C497.8,359.0 493.6,358.6 491.8,360.2 C489.9,361.9 489.4,365.2 489.2,367.8 C489.1,370.2 489.1,373.0 491.0,375.2 C492.9,377.5 497.7,379.7 500.5,381.5 C503.3,383.3 505.5,386.4 508.0,386.0 C510.5,385.6 513.0,381.6 515.5,379.0 C518.0,376.4 520.7,373.2 523.0,370.2 C525.3,367.3 527.7,364.4 529.2,361.5 C530.8,358.6 531.8,355.0 532.5,352.8 C533.2,350.5 533.3,349.0 533.5,348.2"/>
<path d="M544.0,400.2 C543.6,401.7 542.0,405.5 541.8,409.0 C541.5,412.5 542.1,418.2 542.5,421.5 C542.9,424.8 543.8,427.8 544.0,429.0"/>
<path d="M488.0,510.2 C490.1,510.4 492.5,511.6 494.2,513.5 C496.0,515.4 497.7,518.9 498.5,521.5 C499.3,524.1 500.0,526.7 499.2,529.0 C498.5,531.3 496.8,533.6 494.2,535.2 C491.8,536.9 487.0,538.8 484.2,539.0 C481.5,539.2 479.4,538.4 478.0,536.5 C476.6,534.6 475.9,530.7 476.0,527.8 C476.1,524.8 477.5,521.5 478.5,519.0 C479.5,516.5 480.2,514.2 481.8,512.8 C483.3,511.3 485.9,510.1 488.0,510.2Z"/>
<path d="M433.0,529.5 C434.9,529.8 437.6,530.8 439.2,532.8 C440.9,534.8 442.2,538.8 443.0,541.5 C443.8,544.2 444.7,546.5 444.2,549.0 C443.8,551.5 442.2,554.8 440.5,556.5 C438.8,558.2 436.3,559.7 434.2,559.5 C432.2,559.3 429.9,557.2 428.0,555.2 C426.1,553.3 424.1,549.8 423.0,547.8 C421.9,545.7 421.0,544.8 421.2,542.8 C421.5,540.7 423.1,537.2 424.2,535.2 C425.4,533.2 426.5,531.7 428.0,530.8 C429.5,529.8 431.1,529.2 433.0,529.5Z"/>
<path d="M448.0,546.5 C450.0,546.0 455.3,545.0 458.0,545.2 C460.7,545.5 462.5,546.6 464.2,548.2 C466.0,549.9 467.7,553.0 468.5,555.2 C469.3,557.5 469.8,559.6 469.2,561.5 C468.8,563.4 467.0,565.2 465.5,566.5 C464.0,567.8 461.9,569.4 460.0,569.0 C458.1,568.6 456.0,566.3 454.2,564.0 C452.5,561.7 450.6,557.8 449.2,555.2 C447.9,552.7 446.2,550.0 446.0,548.5 C445.8,547.0 446.0,547.0 448.0,546.5Z"/>
<path d="M288.0,563.5 C288.6,564.4 290.7,566.8 291.8,569.0 C292.8,571.2 293.0,574.2 294.2,576.5 C295.5,578.8 297.6,581.2 299.2,582.8 C300.9,584.3 303.4,585.5 304.2,586.0"/>
<path d="M639.0,118.8 C638.2,120.5 635.1,126.2 634.0,129.5 C632.9,132.8 631.8,135.5 632.2,138.2 C632.7,141.0 634.5,144.1 636.5,145.8 C638.5,147.4 641.5,148.5 644.0,148.2 C646.5,148.0 649.8,146.8 651.5,144.5 C653.2,142.2 653.4,137.8 654.0,134.5 C654.6,131.2 655.2,127.1 655.2,124.5 C655.2,121.9 654.2,119.7 654.0,118.8"/>
<path d="M639.8,133.2 C640.4,132.3 645.0,133.0 645.2,134.0 C645.5,135.0 642.4,139.6 641.5,139.5 C640.6,139.4 639.1,134.2 639.8,133.2Z"/>
<path d="M635.2,160.8 C635.5,159.7 639.2,159.0 640.2,159.5 C641.3,160.0 641.7,163.0 641.5,164.0 C641.3,165.0 640.0,166.3 639.0,165.8 C638.0,165.2 635.0,161.8 635.2,160.8Z"/>
<path d="M670.2,118.8 C670.5,121.0 671.6,127.3 672.0,132.0 C672.4,136.7 672.6,144.5 672.8,147.0"/>
<path d="M674.0,175.8 C674.4,178.0 675.5,185.1 676.5,189.5 C677.5,193.9 679.0,198.2 680.2,202.0 C681.5,205.8 682.1,208.7 684.0,212.0 C685.9,215.3 689.3,218.9 691.5,222.0 C693.7,225.1 696.0,228.7 697.0,230.8 C698.0,232.8 698.9,233.0 697.8,234.5 C696.6,236.0 691.9,237.8 690.2,239.5 C688.6,241.2 689.2,242.8 687.8,244.5 C686.3,246.2 684.2,248.5 681.5,249.5 C678.8,250.5 675.0,249.8 671.5,250.2 C668.0,250.7 663.2,252.1 660.2,252.0 C657.3,251.9 655.9,251.4 654.0,249.5 C652.1,247.6 650.5,244.1 649.0,240.8 C647.5,237.4 646.7,233.0 645.2,229.5 C643.8,226.0 641.9,222.8 640.2,219.5 C638.6,216.2 636.5,212.0 635.2,209.5 C634.0,207.0 634.6,205.5 632.8,204.5 C630.9,203.5 627.5,203.0 624.0,203.2 C620.5,203.5 615.7,204.5 611.5,205.8 C607.3,207.0 603.2,208.9 599.0,210.8 C594.8,212.6 590.0,215.3 586.5,217.0 C583.0,218.7 580.5,220.5 577.8,220.8 C575.0,221.0 572.3,219.9 570.2,218.2 C568.2,216.6 566.6,213.0 565.2,210.8 C563.9,208.5 563.2,205.3 562.0,204.5 C560.8,203.7 558.5,204.5 557.8,205.8 C557.0,207.0 556.7,209.7 557.8,212.0 C558.8,214.3 562.1,217.0 564.0,219.5 C565.9,222.0 568.3,224.1 569.0,227.0 C569.7,229.9 568.7,233.2 568.2,237.0 C567.8,240.8 566.8,245.8 566.5,249.5 C566.2,253.2 566.2,256.2 566.5,259.5 C566.8,262.8 568.4,266.4 568.5,269.5 C568.6,272.6 568.2,276.1 567.0,278.2 C565.8,280.4 563.7,282.1 561.5,282.5 C559.3,282.9 556.9,282.0 554.0,280.8 C551.1,279.5 545.7,276.0 544.0,275.0"/>
<path d="M737.2,118.8 L737.2,126.5"/>
<path d="M735.2,154.5 C734.6,156.4 732.8,161.6 731.5,165.8 C730.2,169.9 729.0,175.1 727.8,179.5 C726.5,183.9 725.1,187.4 724.0,192.0 C722.9,196.6 721.3,203.2 721.0,207.0 C720.7,210.8 720.7,212.0 722.0,214.5 C723.3,217.0 726.4,219.8 729.0,222.0 C731.6,224.2 734.4,226.6 737.8,227.5 C741.1,228.4 745.0,228.0 749.0,227.5 C753.0,227.0 757.8,225.4 761.5,224.5 C765.2,223.6 769.0,222.4 771.5,222.0 C774.0,221.6 775.7,222.0 776.5,222.0"/>
<path d="M741.5,196.5 C742.8,196.1 744.4,196.7 745.2,198.2 C746.1,199.8 746.7,203.5 746.5,205.8 C746.3,208.0 745.2,211.1 744.0,211.5 C742.8,211.9 740.0,210.0 739.0,208.2 C738.0,206.5 737.3,202.7 737.8,200.8 C738.2,198.8 740.2,196.9 741.5,196.5Z"/>
<path d="M760.2,118.8 C760.9,120.3 762.3,125.2 764.0,128.2 C765.7,131.3 768.0,135.0 770.2,137.0 C772.5,139.0 775.7,140.2 777.8,140.0 C779.8,139.8 781.4,137.9 782.8,135.8 C784.1,133.6 785.2,129.8 786.0,127.0 C786.8,124.2 787.5,120.1 787.8,118.8"/>
<path d="M606.5,232.8 C608.0,232.0 610.3,233.0 611.5,234.0 C612.7,235.0 613.7,237.4 613.5,239.0 C613.3,240.6 611.6,243.2 610.2,243.8 C608.9,244.3 606.6,243.4 605.2,242.5 C603.9,241.6 602.0,239.9 602.2,238.2 C602.5,236.6 605.0,233.5 606.5,232.8Z"/>
<path d="M709.0,282.0 C710.9,282.2 713.4,282.6 715.2,284.5 C717.1,286.4 718.2,290.1 720.2,293.2 C722.3,296.4 725.8,300.8 727.8,303.2 C729.7,305.8 731.6,306.8 732.0,308.2 C732.4,309.7 731.6,311.6 730.2,312.0 C728.9,312.4 726.3,312.0 724.0,310.8 C721.7,309.5 719.4,306.6 716.5,304.5 C713.6,302.4 709.1,300.1 706.5,298.2 C703.9,296.4 702.2,294.9 701.0,293.2 C699.8,291.6 699.0,289.9 699.5,288.2 C700.0,286.6 702.4,284.3 704.0,283.2 C705.6,282.2 707.1,281.8 709.0,282.0Z"/>
<path d="M636.5,313.2 C638.2,313.2 640.2,315.3 641.5,317.0 C642.8,318.7 644.6,322.3 644.0,323.2 C643.4,324.2 639.8,323.8 637.8,322.8 C635.7,321.7 631.7,318.6 631.5,317.0 C631.3,315.4 634.8,313.2 636.5,313.2Z"/>
<path d="M544.0,400.4 C544.2,398.9 544.6,394.5 545.3,391.6 C545.9,388.7 546.5,385.4 547.8,382.8 C549.0,380.2 550.5,378.0 552.8,375.9 C555.1,373.8 559.0,372.1 561.5,370.3 C564.0,368.5 565.5,366.6 567.8,365.3 C570.1,363.9 572.6,362.8 575.3,362.2 C578.0,361.5 581.4,361.1 584.1,361.3 C586.8,361.5 589.5,362.6 591.6,363.4 C593.7,364.2 594.5,365.2 596.6,365.9 C598.7,366.6 601.8,366.7 604.1,367.8 C606.4,368.8 608.3,370.3 610.4,372.2 C612.5,374.1 615.0,376.5 616.6,379.1 C618.3,381.7 619.3,384.7 620.4,387.8 C621.6,391.0 622.8,394.5 623.5,397.8 C624.3,401.2 624.4,404.3 624.8,407.9 C625.2,411.4 625.5,415.6 626.0,419.1 C626.6,422.7 627.3,426.6 627.9,429.2 C628.5,431.8 629.5,433.9 629.8,434.8"/>
<path d="M629.8,434.8 C630.4,434.3 632.0,433.4 633.2,431.7 C634.3,429.9 635.5,427.1 636.7,424.2 C637.9,421.2 639.2,417.7 640.4,414.1 C641.7,410.6 642.9,406.4 644.2,402.9 C645.5,399.3 646.5,395.8 648.0,392.8 C649.4,389.9 651.1,387.6 653.0,385.3 C654.8,383.0 656.9,380.9 659.2,379.1 C661.5,377.2 664.6,375.2 666.7,374.1 C668.9,372.9 669.5,373.2 672.0,372.2 C674.5,371.1 678.3,369.0 682.0,367.8 C685.8,366.5 690.2,365.4 694.5,364.7 C698.9,363.9 704.1,363.4 708.3,363.4 C712.5,363.4 716.5,363.7 719.6,364.7 C722.7,365.6 724.4,367.5 727.1,369.0 C729.8,370.6 733.3,372.5 735.9,374.1 C738.5,375.6 741.2,376.9 742.8,378.4 C744.3,380.0 744.4,380.8 745.3,383.4 C746.1,386.1 747.0,390.4 747.8,394.1 C748.5,397.7 749.2,401.6 749.7,405.4 C750.1,409.1 750.4,413.1 750.3,416.6 C750.2,420.2 749.7,423.3 749.0,426.7 C748.4,430.0 747.4,433.3 746.5,436.7 C745.7,440.0 744.6,443.4 744.0,446.7 C743.4,450.0 742.9,454.6 742.8,456.7 C742.6,458.8 743.1,458.8 743.1,459.2"/>
<path d="M743.1,459.2 C743.5,459.5 744.2,461.5 745.3,461.1 C746.4,460.7 748.1,458.7 749.7,456.7 C751.2,454.7 753.0,451.7 754.7,449.2 C756.3,446.7 758.3,443.7 759.7,441.7 C761.0,439.7 762.3,438.0 762.8,437.3"/>
<path d="M784.7,414.1 C786.0,412.7 789.7,408.6 792.2,405.4 C794.8,402.1 798.7,396.5 800.0,394.7"/>
<path d="M563.0,467.7 C563.4,465.7 564.7,459.0 565.3,455.5 C565.9,452.0 565.6,449.2 566.5,446.7 C567.5,444.2 569.7,442.3 570.9,440.4 C572.1,438.6 573.4,437.0 573.8,435.4 C574.2,433.9 574.2,432.7 573.4,431.0 C572.6,429.4 570.6,427.4 569.1,425.4 C567.5,423.4 565.4,421.4 564.0,419.1 C562.7,416.8 561.8,414.1 560.9,411.6 C560.0,409.1 559.3,406.5 558.8,404.1 C558.3,401.7 557.9,399.7 558.0,397.2 C558.2,394.7 558.9,391.1 559.7,389.1 C560.4,387.1 561.2,386.3 562.8,385.3 C564.4,384.4 566.8,383.9 569.1,383.4 C571.3,383.0 574.1,382.8 576.6,382.6 C579.0,382.3 582.1,382.5 583.8,381.8 C585.6,381.1 585.9,379.7 587.2,378.4 C588.5,377.1 589.8,375.0 591.6,374.1 C593.4,373.1 596.0,372.7 597.9,372.8 C599.7,372.9 601.7,373.6 602.9,374.7 C604.1,375.7 605.0,377.3 605.0,379.1 C605.0,380.8 603.8,383.3 602.9,385.3 C601.9,387.3 600.5,389.5 599.1,391.0 C597.8,392.4 596.4,393.2 594.7,394.1 C593.1,395.0 590.8,395.8 589.1,396.6 C587.4,397.4 585.5,397.8 584.7,399.1 C583.9,400.4 583.6,402.2 584.1,404.1 C584.6,406.0 587.5,408.5 587.8,410.4 C588.2,412.3 586.5,413.6 586.0,415.4 C585.4,417.2 584.4,418.7 584.7,421.0 C585.0,423.3 586.7,426.3 587.8,429.2 C589.0,432.0 590.3,435.2 591.6,437.9 C592.8,440.6 594.3,443.4 595.4,445.4 C596.4,447.5 597.5,448.6 597.9,450.5 C598.2,452.3 597.6,454.6 597.2,456.7 C596.8,458.8 596.0,461.1 595.4,463.0 C594.7,464.8 593.8,466.9 593.5,467.7"/>
<path d="M567.2,394.1 C567.4,392.5 567.3,390.8 568.4,389.7 C569.6,388.7 572.2,388.0 574.1,387.8 C575.9,387.6 578.5,387.6 579.7,388.5 C580.8,389.3 581.3,391.3 580.9,392.8 C580.6,394.4 579.1,396.5 577.8,397.8 C576.6,399.2 574.9,400.0 573.4,401.0 C572.0,401.9 570.1,403.8 569.1,403.5 C568.0,403.2 567.5,400.7 567.2,399.1 C566.9,397.5 567.0,395.7 567.2,394.1Z"/>
<path d="M568.4,409.1 C569.1,408.2 573.4,407.9 574.7,408.5 C575.9,409.1 576.0,411.4 575.9,412.9 C575.8,414.4 574.9,417.4 574.1,417.6 C573.2,417.8 571.9,415.5 570.9,414.1 C570.0,412.7 567.8,410.1 568.4,409.1Z"/>
<path d="M573.4,466.7 C572.5,465.8 571.4,462.6 570.9,460.5 C570.4,458.4 570.3,456.2 570.6,454.2 C570.8,452.2 570.9,450.2 572.2,448.6 C573.5,446.9 576.5,444.5 578.4,444.2 C580.4,443.9 582.7,445.4 584.1,446.7 C585.4,447.9 586.3,450.0 586.6,451.7 C586.9,453.4 586.8,454.8 586.0,456.7 C585.1,458.6 583.1,461.4 581.6,463.0 C580.0,464.5 577.9,465.5 576.6,466.1 C575.2,466.7 574.4,467.7 573.4,466.7Z"/>
<path d="M544.0,429.2 C544.4,430.4 545.8,434.2 546.5,436.7 C547.2,439.2 548.2,441.1 548.4,444.2 C548.6,447.3 548.0,451.5 547.8,455.5 C547.5,459.4 547.1,463.6 546.8,467.7 C546.4,471.9 545.6,475.3 545.5,480.5 C545.4,485.8 545.5,493.1 545.9,499.3 C546.3,505.6 546.9,512.5 547.8,518.1 C548.6,523.7 549.9,529.0 550.9,533.1 C551.8,537.3 552.7,540.4 553.4,543.2 C554.1,545.9 554.7,547.3 555.0,549.4 C555.3,551.5 555.3,553.0 555.3,555.7 C555.2,558.4 554.6,562.4 554.6,565.7 C554.6,569.0 555.1,572.2 555.3,575.7 C555.4,579.2 555.5,584.9 555.5,586.7"/>
<path d="M680.8,394.1 C682.4,393.0 685.6,392.0 688.3,391.6 C691.0,391.2 694.5,391.1 697.1,391.6 C699.6,392.1 701.4,393.3 703.3,394.7 C705.2,396.2 707.0,398.4 708.3,400.4 C709.7,402.3 710.7,404.3 711.5,406.6 C712.2,408.9 712.8,411.7 712.7,414.1 C712.6,416.5 711.8,419.1 710.8,421.0 C709.9,422.9 707.9,423.6 707.1,425.4 C706.2,427.2 706.2,429.4 705.8,431.7 C705.4,434.0 705.6,437.0 704.6,439.2 C703.5,441.4 701.6,443.3 699.6,444.8 C697.5,446.4 694.5,448.1 692.0,448.6 C689.5,449.1 686.8,448.8 684.5,447.9 C682.2,447.1 679.9,445.3 678.3,443.6 C676.6,441.8 675.5,439.2 674.5,437.3 C673.5,435.4 672.7,433.6 672.0,432.3 C671.3,430.9 671.0,430.7 670.5,429.2 C670.0,427.6 669.4,425.0 669.3,422.9 C669.1,420.8 669.4,418.5 669.9,416.6 C670.3,414.8 670.8,413.5 672.0,411.6 C673.2,409.7 676.0,407.7 677.0,405.4 C678.1,403.1 677.6,399.7 678.3,397.8 C678.9,396.0 679.1,395.1 680.8,394.1Z"/>
<path d="M690.5,407.2 C691.7,407.3 693.7,410.7 694.5,412.9 C695.4,415.1 695.8,418.3 695.8,420.4 C695.8,422.5 695.3,423.9 694.5,425.4 C693.8,426.9 693.1,428.5 691.4,429.2 C689.7,429.8 686.3,430.2 684.5,429.2 C682.8,428.1 681.0,424.9 680.8,422.9 C680.6,420.9 682.1,419.0 683.3,417.3 C684.4,415.5 686.4,413.9 687.7,412.3 C688.9,410.6 689.4,407.1 690.5,407.2Z"/>
<path d="M730.2,384.1 C730.6,384.1 731.5,384.9 731.5,385.3 C731.5,385.7 730.6,386.4 730.2,386.3 C729.9,386.3 729.4,385.4 729.4,385.1 C729.4,384.7 729.9,384.0 730.2,384.1Z"/>
<path d="M563.4,468.0 C563.3,468.8 563.4,471.4 562.8,473.0 C562.2,474.6 560.8,476.0 559.7,477.4 C558.5,478.8 556.7,479.6 555.9,481.2 C555.1,482.7 554.5,484.8 554.6,486.8 C554.8,488.8 556.0,491.2 556.5,493.1 C557.0,494.9 557.8,496.2 557.8,498.1 C557.8,499.9 556.5,502.2 556.5,504.3 C556.5,506.4 557.3,508.7 557.8,510.6 C558.3,512.5 559.6,513.9 559.7,515.6 C559.8,517.3 558.4,518.7 558.4,520.6 C558.4,522.5 558.9,525.2 559.7,526.9 C560.4,528.5 561.5,529.7 562.8,530.6 C564.0,531.6 566.0,532.6 567.2,532.5 C568.3,532.4 569.2,531.1 569.7,530.0 C570.2,528.9 570.6,527.2 570.3,525.6 C570.0,524.0 568.7,522.4 567.8,520.6 C566.9,518.8 564.9,516.8 564.7,515.0 C564.5,513.1 565.8,511.3 566.5,509.3 C567.3,507.3 568.3,505.2 569.1,503.1 C569.8,501.0 570.2,498.7 570.9,496.8 C571.7,494.9 572.2,493.5 573.4,491.8 C574.7,490.1 577.1,488.5 578.4,486.8 C579.8,485.1 580.8,483.4 581.6,481.8 C582.3,480.1 582.0,478.1 582.8,476.8 C583.7,475.4 585.2,474.6 586.6,473.6 C587.9,472.7 589.9,472.1 591.0,471.1 C592.0,470.2 592.5,468.5 592.8,468.0"/>
<path d="M571.6,542.9 C571.6,542.8 572.0,542.8 572.1,542.9 C572.1,543.0 572.1,543.3 572.1,543.4 C572.0,543.5 571.6,543.5 571.6,543.4 C571.5,543.3 571.5,543.0 571.6,542.9Z"/>
<path d="M639.4,503.7 C640.2,503.7 641.7,504.9 641.7,505.6 C641.7,506.3 640.2,507.8 639.4,507.8 C638.7,507.8 637.3,506.3 637.3,505.6 C637.3,504.9 638.7,503.7 639.4,503.7Z"/>
<path d="M672.0,472.4 C670.6,472.9 669.4,473.8 668.6,474.9 C667.9,475.9 667.3,477.2 667.4,478.6 C667.5,480.1 668.5,482.4 669.3,483.7 C670.0,484.9 670.8,485.7 672.0,486.2 C673.2,486.6 675.0,486.6 676.4,486.2 C677.7,485.7 679.3,484.9 680.1,483.7 C681.0,482.4 681.4,480.2 681.4,478.6 C681.4,477.1 680.9,475.4 680.1,474.3 C679.4,473.1 678.4,472.1 677.0,471.8 C675.7,471.4 673.4,471.9 672.0,472.4Z"/>
<path d="M633.3,571.3 C632.6,570.6 630.7,568.5 629.2,566.9 C627.6,565.4 625.6,563.4 624.2,561.9 C622.7,560.5 621.3,559.5 620.4,558.2 C619.5,556.8 618.9,555.7 618.8,553.8 C618.7,551.9 619.2,549.1 619.8,546.9 C620.4,544.7 621.0,542.0 622.3,540.6 C623.5,539.3 625.9,539.8 627.3,538.8 C628.6,537.7 629.9,536.2 630.4,534.4 C631.0,532.6 630.3,529.5 630.7,528.1 C631.1,526.7 631.9,525.8 632.9,526.0 C633.9,526.2 635.2,527.9 636.7,529.4 C638.1,530.9 640.0,533.1 641.7,535.0 C643.4,536.9 644.8,539.3 646.7,540.6 C648.6,542.0 651.2,542.3 653.0,543.2 C654.7,544.0 655.9,544.5 657.4,545.7 C658.8,546.8 660.4,549.1 661.7,550.0 C663.1,551.0 664.2,551.5 665.5,551.5 C666.7,551.5 668.2,550.6 669.3,550.0 C670.3,549.5 670.9,549.1 672.0,548.2 C673.1,547.2 674.3,545.7 675.8,544.4 C677.2,543.2 678.9,541.7 680.8,540.6 C682.6,539.6 685.4,539.4 687.0,538.1 C688.7,536.9 689.5,534.8 690.8,533.1 C692.0,531.5 693.2,529.8 694.5,528.1 C695.9,526.5 697.7,525.0 698.9,523.1 C700.2,521.2 701.2,518.7 702.1,516.8 C703.0,515.0 704.1,513.5 704.3,511.8 C704.5,510.2 703.1,508.5 703.3,506.8 C703.5,505.2 704.2,502.1 705.6,501.8 C706.9,501.5 710.5,503.8 711.5,504.9 C712.4,506.1 711.7,507.5 711.1,508.7 C710.5,509.9 707.3,510.7 707.7,512.1 C708.1,513.4 711.6,515.0 713.3,516.8 C715.1,518.7 716.9,521.0 718.3,523.1 C719.8,525.2 721.3,526.9 722.1,529.4 C722.9,531.9 722.9,535.4 723.1,538.1 C723.4,540.9 723.8,543.6 723.6,545.7 C723.4,547.7 723.2,549.3 722.1,550.7 C721.0,552.0 718.7,552.8 717.1,553.8 C715.5,554.8 713.0,555.6 712.7,556.9 C712.4,558.3 714.1,560.3 715.2,561.9 C716.4,563.6 718.3,565.3 719.6,566.9 C720.8,568.6 722.3,570.1 722.7,572.0 C723.1,573.8 722.4,575.8 722.1,578.2 C721.8,580.7 721.1,585.3 720.8,586.7"/>
<path d="M633.3,569.5 C634.0,568.9 635.6,567.2 637.3,566.3 C639.0,565.5 642.1,564.4 643.6,564.4 C645.0,564.4 645.2,565.1 646.1,566.3 C646.9,567.6 647.6,570.2 648.6,572.0 C649.5,573.7 650.4,575.3 651.7,577.0 C653.1,578.6 654.8,580.7 656.7,582.0 C658.6,583.2 661.1,584.4 663.0,584.5 C664.9,584.6 666.5,583.3 668.0,582.6 C669.5,581.9 670.5,580.2 672.0,580.1 C673.5,580.0 675.2,580.9 677.0,582.0 C678.8,583.1 681.7,585.9 682.6,586.7"/>
<path d="M704.6,568.2 C705.9,568.1 708.6,571.3 709.6,572.6 C710.6,573.8 710.7,574.6 710.6,575.7 C710.5,576.9 710.0,578.4 708.9,579.5 C707.9,580.6 705.8,582.4 704.6,582.2 C703.4,582.0 702.3,579.7 701.8,578.2 C701.3,576.7 701.0,574.9 701.4,573.2 C701.9,571.5 703.2,568.3 704.6,568.2Z"/>
<path d="M800.0,441.7 C799.5,442.9 798.3,446.3 797.3,449.2 C796.2,452.1 795.6,456.8 793.5,459.2 C791.4,461.6 787.0,462.2 784.7,463.6 C782.4,465.0 782.0,466.3 779.7,467.7 C777.4,469.2 773.5,470.8 770.9,472.4 C768.4,474.0 766.5,475.4 764.7,477.4 C762.9,479.4 761.3,481.9 760.3,484.3 C759.3,486.7 758.7,489.3 758.4,491.8 C758.2,494.3 758.3,496.8 758.7,499.3 C759.1,501.8 760.2,504.1 760.9,506.8 C761.6,509.5 762.2,512.9 762.8,515.6 C763.4,518.3 764.1,520.8 764.7,523.1 C765.3,525.4 766.4,527.8 766.6,529.4 C766.8,530.9 767.1,531.9 765.9,532.5 C764.8,533.1 761.7,532.9 759.7,533.1 C757.7,533.3 755.4,532.9 754.0,533.8 C752.7,534.6 752.1,536.6 751.5,538.1 C751.0,539.7 750.6,541.3 750.7,543.2 C750.8,545.0 751.4,547.7 752.2,549.4 C752.9,551.1 753.8,552.4 755.3,553.2 C756.8,553.9 759.2,554.2 760.9,553.8 C762.7,553.4 764.3,551.4 765.9,550.7 C767.6,549.9 769.1,549.4 770.9,549.4 C772.8,549.4 775.1,550.2 777.2,550.7 C779.3,551.1 781.4,551.8 783.5,551.9 C785.6,552.1 788.2,551.2 789.7,551.7 C791.3,552.1 792.0,553.4 792.9,554.4 C793.7,555.4 795.3,556.4 794.7,557.6 C794.2,558.7 791.2,560.0 789.7,561.3 C788.3,562.7 787.0,564.4 786.0,565.7 C784.9,566.9 783.5,567.6 783.5,568.8 C783.5,570.1 784.9,572.1 786.0,573.2 C787.0,574.4 788.6,574.9 789.7,575.7 C790.9,576.6 792.1,577.0 792.9,578.2 C793.6,579.5 793.8,581.8 794.1,583.2 C794.4,584.6 794.6,586.2 794.7,586.7"/>
<path d="M872.3,118.9 C872.7,120.9 873.5,127.6 874.5,130.8 C875.4,134.0 876.9,135.4 878.2,138.3 C879.6,141.2 880.9,145.0 882.6,148.3 C884.3,151.7 886.6,155.2 888.2,158.3 C889.9,161.5 891.3,164.8 892.6,167.1 C893.9,169.4 894.9,170.2 896.0,172.1 C897.1,174.0 897.9,175.9 899.1,178.4 C900.4,180.9 902.3,184.4 903.5,187.2 C904.8,189.9 905.9,192.2 906.6,194.7 C907.4,197.2 908.0,199.9 908.3,202.2 C908.6,204.5 908.5,207.4 908.5,208.4"/>
<path d="M909.2,232.9 C909.0,233.6 908.5,235.5 908.5,237.3 C908.6,239.0 909.2,241.4 909.5,243.5 C909.8,245.6 910.6,248.4 910.4,249.8 C910.2,251.2 909.5,252.0 908.5,252.0 C907.6,252.0 906.0,251.0 904.8,249.8 C903.5,248.6 902.1,246.7 901.0,244.8 C900.0,242.9 899.2,240.8 898.5,238.5 C897.8,236.2 897.4,233.3 896.6,231.0 C895.9,228.7 894.8,227.2 893.9,224.7 C893.0,222.2 892.3,219.1 891.4,216.0 C890.4,212.8 889.6,209.1 888.2,205.9 C886.9,202.8 884.9,200.3 883.2,197.2 C881.6,194.0 879.7,190.1 878.2,187.2 C876.8,184.2 876.6,182.6 874.5,179.6 C872.4,176.7 868.5,172.9 865.7,169.6 C862.9,166.4 859.4,162.9 857.6,160.2 C855.7,157.5 856.0,156.6 854.4,153.3 C852.9,150.1 850.0,144.6 848.2,140.8 C846.3,137.1 844.6,134.4 843.2,130.8 C841.7,127.1 840.0,120.9 839.4,118.9"/>
<path d="M892.0,118.9 C892.3,119.8 893.2,123.1 893.9,124.5 C894.5,126.0 895.0,126.7 896.0,127.7 C897.0,128.6 898.8,129.1 899.8,130.2 C900.7,131.2 901.6,132.6 901.6,133.9 C901.6,135.3 900.2,136.7 899.8,138.3 C899.3,139.9 898.8,141.6 899.1,143.3 C899.4,145.0 900.4,146.8 901.6,148.3 C902.9,149.9 905.2,151.5 906.6,152.7 C908.1,154.0 909.6,154.7 910.4,155.8 C911.2,157.0 911.2,157.9 911.7,159.6 C912.1,161.3 912.2,164.0 912.9,165.9 C913.6,167.7 914.6,169.1 916.0,170.9 C917.5,172.6 920.5,174.6 921.7,176.5 C922.8,178.4 922.2,179.9 922.9,182.1 C923.7,184.3 925.0,186.9 926.1,189.7 C927.1,192.4 928.4,195.9 929.2,198.4 C930.0,200.9 930.4,202.6 931.1,204.7 C931.8,206.8 932.9,208.4 933.3,210.9 C933.7,213.5 933.5,217.0 933.6,219.7 C933.6,222.4 933.3,225.4 933.6,227.2 C933.9,229.1 934.5,229.5 935.5,230.7 C936.4,232.0 938.1,233.3 939.2,234.8 C940.4,236.3 942.0,238.1 942.3,239.8 C942.7,241.4 941.2,243.1 941.3,244.8 C941.4,246.4 942.0,248.1 943.0,249.8 C944.0,251.5 946.1,252.9 947.4,254.8 C948.6,256.7 949.2,259.4 950.5,261.1 C951.7,262.7 953.5,263.8 954.9,264.8 C956.2,265.9 958.4,266.2 958.6,267.3 C958.8,268.5 956.9,270.0 956.1,271.7 C955.4,273.4 953.8,275.9 954.2,277.3 C954.7,278.8 957.1,279.2 958.6,280.5 C960.2,281.7 962.5,283.3 963.6,284.9 C964.8,286.4 965.3,288.0 965.5,289.9 C965.7,291.7 964.5,293.8 964.6,296.1 C964.7,298.4 965.6,301.6 966.1,303.6 C966.6,305.7 967.4,307.8 967.6,308.7"/>
<path d="M965.9,337.5 L965.5,349.7"/>
<path d="M905.4,118.9 C906.5,119.4 910.4,121.2 912.3,122.0 C914.2,122.9 915.6,123.1 916.7,123.9 C917.7,124.7 918.5,125.5 918.5,127.0 C918.5,128.6 917.3,131.2 916.7,133.3 C916.0,135.4 915.0,137.5 914.5,139.6 C914.1,141.6 913.5,143.5 913.8,145.8 C914.0,148.1 915.4,150.8 916.0,153.3 C916.7,155.8 917.2,158.8 917.9,160.8 C918.6,162.9 919.1,164.2 920.4,165.9 C921.8,167.5 924.5,169.2 926.1,170.9 C927.6,172.5 928.7,173.8 929.8,175.9 C931.0,178.0 932.0,180.7 932.9,183.4 C933.9,186.1 934.8,189.7 935.5,192.2 C936.1,194.7 936.0,196.3 936.7,198.4 C937.4,200.5 939.0,202.4 939.8,204.7 C940.7,207.0 941.1,209.7 941.7,212.2 C942.3,214.7 942.6,218.7 943.3,219.5 C944.1,220.2 945.1,217.6 946.1,216.6 C947.1,215.5 948.2,213.2 949.2,213.2 C950.3,213.2 951.2,215.3 952.4,216.6 C953.5,217.9 955.0,219.4 956.1,221.0 C957.3,222.5 958.3,224.3 959.3,226.0 C960.2,227.6 960.9,228.9 961.8,230.7 C962.6,232.6 963.3,235.2 964.3,237.3 C965.2,239.3 966.5,241.2 967.4,242.9 C968.3,244.6 968.4,246.7 969.9,247.3 C971.4,247.9 974.3,247.0 976.2,246.7 C978.0,246.3 979.7,244.9 981.2,245.4 C982.6,245.9 984.0,248.2 984.9,249.8 C985.9,251.4 986.5,254.0 986.8,254.8"/>
<path d="M922.3,147.1 C922.9,147.0 924.3,149.2 925.4,150.2 C926.5,151.2 928.0,151.8 928.8,153.3 C929.7,154.9 930.3,158.0 930.4,159.6 C930.6,161.2 930.3,161.8 929.8,162.7 C929.3,163.7 928.3,165.4 927.3,165.2 C926.4,165.0 925.0,163.0 924.2,161.5 C923.4,159.9 922.9,157.6 922.6,155.8 C922.2,154.1 922.1,152.3 922.1,150.8 C922.0,149.4 921.7,147.2 922.3,147.1Z"/>
<path d="M921.7,118.9 C922.4,119.6 924.7,121.7 926.1,123.3 C927.4,124.8 928.7,126.5 929.8,128.3 C931.0,130.1 931.5,132.6 932.9,133.9 C934.4,135.3 937.0,135.4 938.6,136.4 C940.2,137.5 941.2,138.8 942.3,140.2 C943.5,141.6 944.0,143.6 945.5,144.8 C946.9,146.1 949.3,147.0 951.1,147.7 C952.9,148.4 954.7,148.2 956.1,148.9 C957.6,149.7 958.6,150.7 959.9,152.1 C961.1,153.4 962.3,155.5 963.6,157.1 C965.0,158.7 966.7,159.8 968.0,161.5 C969.4,163.1 970.4,165.1 971.8,167.1 C973.1,169.1 975.2,171.3 976.2,173.4 C977.1,175.5 977.0,177.1 977.4,179.6 C977.8,182.1 978.8,185.7 978.7,188.4 C978.6,191.1 977.2,193.4 976.8,195.9 C976.4,198.4 976.2,201.3 976.2,203.4 C976.2,205.5 976.2,206.6 976.8,208.4 C977.4,210.3 979.0,212.6 979.9,214.7 C980.9,216.8 981.2,219.2 982.4,221.0 C983.6,222.7 986.3,224.6 987.1,225.4"/>
<path d="M971.2,230.7 C971.6,230.1 972.2,228.9 972.4,227.2 C972.6,225.6 972.8,222.8 972.4,221.0 C972.0,219.1 970.7,217.6 969.9,216.0 C969.1,214.3 967.9,212.8 967.4,210.9 C966.9,209.1 966.9,207.0 966.8,204.7 C966.6,202.4 966.3,199.5 966.4,197.2 C966.5,194.9 966.9,193.0 967.4,190.9 C967.9,188.8 969.1,186.4 969.3,184.6 C969.5,182.9 969.2,181.9 968.6,180.3 C968.1,178.6 967.0,176.5 966.1,174.6 C965.3,172.7 964.7,170.7 963.6,169.0 C962.6,167.3 961.3,165.9 959.9,164.6 C958.4,163.4 956.5,162.3 954.9,161.5 C953.2,160.6 951.1,159.3 949.9,159.6 C948.6,159.9 948.1,161.7 947.6,163.4 C947.1,165.0 947.0,167.3 946.7,169.6 C946.5,171.9 946.3,174.8 946.1,177.1 C945.9,179.4 945.3,181.7 945.5,183.4 C945.7,185.1 946.5,186.1 947.4,187.2 C948.2,188.2 949.2,188.9 950.5,189.4 C951.7,189.9 953.6,189.7 954.9,190.3 C956.1,190.8 957.1,192.0 958.0,192.8 C958.9,193.6 960.1,194.0 960.5,195.3 C960.9,196.5 960.3,198.9 960.5,200.3 C960.7,201.7 961.1,202.4 961.8,203.4 C962.4,204.5 964.4,205.7 964.3,206.6 C964.2,207.4 961.9,207.5 961.1,208.4 C960.4,209.4 959.7,210.7 959.6,212.2 C959.5,213.7 959.9,215.5 960.5,217.2 C961.1,218.9 962.0,220.6 963.0,222.2 C964.1,223.9 965.6,225.8 966.8,227.2 C967.9,228.7 969.2,230.4 969.9,231.0 C970.6,231.6 970.7,231.4 971.2,230.7Z"/>
<path d="M954.0,118.9 C954.6,119.4 955.8,121.2 957.4,122.0 C959.0,122.9 961.9,123.3 963.6,123.9 C965.4,124.5 966.8,124.8 968.0,125.8 C969.3,126.7 970.0,128.3 971.2,129.5 C972.3,130.8 973.8,132.2 974.9,133.3 C976.1,134.3 977.2,135.7 978.0,135.8 C978.8,135.9 979.4,135.2 979.7,133.9 C979.9,132.7 980.3,130.1 979.7,128.3 C979.1,126.5 977.7,124.8 976.2,123.3 C974.6,121.7 971.5,119.6 970.5,118.9"/>
<path d="M800.8,212.2 C800.9,210.9 800.7,207.1 801.2,204.7 C801.7,202.3 802.8,199.6 803.7,197.8 C804.6,196.0 805.7,195.0 806.8,194.0 C808.0,193.1 810.1,193.3 810.6,192.2 C811.1,191.0 810.6,188.8 810.0,187.2 C809.3,185.5 807.9,183.9 806.8,182.1 C805.8,180.4 804.1,178.5 803.7,176.5 C803.3,174.5 803.6,172.2 804.3,170.2 C805.1,168.3 806.4,166.3 808.1,164.6 C809.8,162.9 812.0,161.3 814.3,160.2 C816.6,159.1 819.6,158.2 821.9,158.1 C824.2,158.0 826.2,158.7 828.1,159.6 C830.0,160.5 831.8,161.8 833.1,163.4 C834.5,164.9 834.8,166.9 836.3,169.0 C837.7,171.1 840.1,173.6 841.9,175.9 C843.7,178.2 845.6,180.7 846.9,182.8 C848.3,184.9 849.3,186.6 850.0,188.4 C850.8,190.2 850.6,191.5 851.3,193.4 C852.0,195.3 853.4,197.8 854.4,199.7 C855.5,201.6 856.9,203.0 857.6,204.7 C858.2,206.4 858.2,208.0 858.4,209.7 C858.7,211.4 858.0,212.3 858.9,215.0 C859.9,217.8 862.4,222.8 864.0,226.3 C865.5,229.9 868.1,232.6 868.3,236.3 C868.6,240.1 864.9,245.3 865.2,248.9 C865.5,252.4 869.0,254.9 870.2,257.6 C871.5,260.3 871.6,263.3 872.7,265.1 C873.9,267.0 875.6,268.4 877.1,268.9 C878.6,269.4 879.7,267.5 881.5,268.3 C883.3,269.0 886.1,271.4 888.0,273.3 C890.0,275.1 891.5,277.2 893.2,279.3 C894.9,281.3 896.5,284.1 898.2,285.5 C899.9,287.0 901.5,287.3 903.2,288.0 C904.9,288.8 906.7,288.9 908.2,289.9 C909.7,291.0 910.7,293.1 912.0,294.3 C913.2,295.6 914.5,296.5 915.7,297.4 C917.0,298.4 918.3,298.6 919.5,299.9 C920.6,301.3 921.9,303.6 922.6,305.6 C923.3,307.6 923.9,309.9 923.9,311.8 C923.9,313.8 923.3,316.1 922.6,317.5 C921.9,318.8 920.3,319.1 919.5,320.0 C918.6,320.8 917.6,321.8 917.6,322.5 C917.6,323.2 918.3,324.4 919.5,324.4 C920.6,324.4 923.2,323.5 924.5,322.5 C925.7,321.4 925.8,319.9 927.0,318.1 C928.1,316.3 929.9,313.6 931.4,311.8 C932.9,310.1 935.2,308.3 936.0,307.5 C936.8,306.7 935.9,306.4 936.3,307.0 C936.8,307.6 937.9,309.0 938.6,311.2 C939.3,313.3 939.8,317.0 940.5,319.9 C941.1,322.9 941.8,325.8 942.3,328.7 C942.9,331.6 943.6,335.2 943.6,337.5 C943.6,339.8 943.2,340.9 942.3,342.5 C941.5,344.0 940.0,345.6 938.6,346.9 C937.1,348.1 934.4,349.3 933.6,349.7"/>
<path d="M791.3,238.8 C790.3,239.8 787.3,242.6 785.1,244.5 C782.8,246.4 779.5,248.1 777.5,250.1 C775.6,252.1 773.6,254.7 773.2,256.4 C772.7,258.0 773.7,258.7 775.0,260.1 C776.4,261.6 778.6,263.8 781.3,265.1 C784.0,266.5 787.6,267.6 791.3,268.3 C795.1,268.9 799.9,269.1 803.8,268.9 C807.8,268.7 812.5,266.3 815.1,267.0 C817.7,267.7 817.7,271.5 819.3,273.0 C820.8,274.5 822.0,275.5 824.3,276.1 C826.6,276.8 830.1,276.8 833.1,277.0 C836.0,277.2 839.8,276.6 841.8,277.4 C843.8,278.2 844.4,280.2 844.9,281.8 C845.5,283.3 844.4,285.4 844.9,286.8 C845.5,288.2 846.7,289.6 848.1,290.3 C849.4,291.0 851.2,291.3 853.1,291.2 C855.0,291.0 857.4,289.9 859.4,289.3 C861.3,288.7 863.3,287.3 865.0,287.4 C866.7,287.5 868.3,289.0 869.4,289.9 C870.4,290.9 871.9,291.9 871.3,293.1 C870.6,294.2 867.6,295.5 865.6,296.8 C863.6,298.2 861.0,299.7 859.4,301.2 C857.7,302.7 857.1,303.8 855.6,305.6 C854.1,307.3 852.5,309.8 850.6,311.8 C848.7,313.9 846.2,316.0 844.3,318.1 C842.4,320.2 840.3,322.7 839.3,324.4 C838.4,326.0 838.3,326.8 838.7,328.1 C839.1,329.5 839.8,331.5 841.8,332.5 C843.8,333.5 847.5,334.4 850.6,334.4 C853.7,334.4 857.7,333.0 860.6,332.5 C863.5,332.0 866.0,331.0 868.1,331.3 C870.2,331.5 871.7,332.5 873.1,333.8 C874.6,335.0 876.5,337.0 876.9,338.8 C877.3,340.5 876.5,342.8 875.6,344.4 C874.8,346.0 872.9,346.5 871.9,348.2 C870.8,349.8 869.7,352.3 869.4,354.4 C869.1,356.5 869.2,359.0 870.0,360.7 C870.8,362.4 872.6,363.4 874.4,364.4 C876.2,365.5 878.6,365.7 880.6,366.9 C882.7,368.2 885.0,370.3 886.9,372.0 C888.8,373.6 890.0,375.4 891.9,377.0 C893.8,378.5 896.3,379.7 898.2,381.4 C900.1,383.0 902.4,385.8 903.2,386.7"/>
<path d="M806.2,213.5 C807.1,211.1 807.3,209.8 808.1,208.4 C808.8,207.1 809.2,205.4 810.6,205.3 C811.9,205.3 814.9,208.5 816.2,208.2 C817.6,207.9 817.9,205.5 818.7,203.4 C819.6,201.4 820.3,198.0 821.2,195.9 C822.2,193.8 823.3,192.4 824.4,190.9 C825.4,189.4 826.5,186.8 827.5,187.2 C828.5,187.5 829.3,190.7 830.6,192.8 C832.0,194.9 834.3,197.6 835.6,199.7 C837.0,201.8 838.1,203.2 838.8,205.3 C839.4,207.4 839.6,209.7 839.6,212.2 C839.7,214.7 838.7,217.7 838.9,220.1 C839.1,222.4 839.3,224.4 840.8,226.3 C842.2,228.2 845.5,229.7 847.7,231.3 C849.9,233.0 852.5,234.5 853.9,236.3 C855.4,238.2 855.7,240.3 856.4,242.6 C857.2,244.9 857.8,247.6 858.3,250.1 C858.8,252.6 859.9,255.4 859.6,257.6 C859.3,259.8 858.2,261.6 856.4,263.3 C854.7,264.9 851.6,266.6 848.9,267.6 C846.2,268.7 843.1,269.7 840.2,269.5 C837.2,269.3 833.9,268.0 831.4,266.4 C828.9,264.8 827.0,262.0 825.1,260.1 C823.3,258.3 821.8,256.1 820.1,255.1 C818.5,254.2 817.0,253.7 815.1,254.5 C813.2,255.3 810.9,258.6 808.8,260.1 C806.8,261.7 805.5,263.3 802.6,263.9 C799.7,264.5 794.4,264.4 791.3,263.9 C788.2,263.4 785.6,262.0 783.8,260.8 C782.0,259.5 781.0,257.7 780.7,256.4 C780.4,255.0 780.8,254.1 781.9,252.6 C783.1,251.2 785.6,249.3 787.6,247.6 C789.5,245.9 792.1,244.3 793.8,242.6 C795.5,240.9 796.5,239.5 797.6,237.6 C798.6,235.7 799.2,233.8 800.1,231.3 C800.9,228.8 801.6,225.5 802.6,222.6 C803.6,219.6 805.3,215.8 806.2,213.5Z"/>
<path d="M803.8,231.3 C804.7,229.1 805.9,226.3 807.0,224.4 C808.0,222.6 808.6,220.5 810.1,220.1 C811.6,219.6 813.8,221.9 815.7,221.9 C817.7,221.9 820.5,221.6 822.0,220.1 C823.5,218.5 823.6,215.1 824.5,212.5 C825.4,209.9 826.2,205.1 827.6,204.4 C829.1,203.7 832.3,206.6 833.3,208.2 C834.2,209.7 833.4,211.6 833.3,213.8 C833.1,216.0 832.3,218.4 832.4,221.3 C832.5,224.2 832.6,228.8 833.9,231.3 C835.2,233.8 837.9,234.6 840.2,236.3 C842.5,238.1 845.7,239.9 847.7,242.0 C849.7,244.1 850.9,246.7 852.1,248.9 C853.2,251.0 854.4,253.5 854.6,255.1 C854.8,256.8 854.5,257.7 853.3,258.9 C852.2,260.0 849.9,261.6 847.7,262.0 C845.5,262.4 842.7,261.9 840.2,261.4 C837.7,260.9 834.9,259.9 832.6,258.9 C830.3,257.8 828.3,256.4 826.4,255.1 C824.5,253.9 823.3,252.3 821.4,251.4 C819.5,250.4 817.2,249.7 815.1,249.5 C813.0,249.3 810.7,249.4 808.8,250.1 C807.0,250.8 805.5,252.5 803.8,253.9 C802.2,255.2 800.6,257.5 798.8,258.3 C797.1,259.0 794.5,259.0 793.2,258.3 C791.9,257.5 790.5,255.4 791.1,253.9 C791.6,252.3 794.8,250.5 796.3,248.9 C797.8,247.2 799.1,245.7 800.1,243.8 C801.0,242.0 801.3,239.7 802.0,237.6 C802.6,235.5 803.0,233.5 803.8,231.3Z"/>
<path d="M809.5,228.8 C810.7,228.0 813.1,227.4 815.1,226.9 C817.1,226.5 819.5,226.1 821.4,226.3 C823.3,226.5 825.0,227.0 826.4,228.2 C827.7,229.3 828.1,231.6 829.5,233.2 C831.0,234.8 833.4,236.1 835.2,237.6 C836.9,239.0 838.8,240.3 840.2,242.0 C841.5,243.6 843.0,245.9 843.3,247.6 C843.6,249.3 843.1,251.0 842.0,252.0 C841.0,252.9 839.0,253.3 837.0,253.2 C835.0,253.1 832.3,252.2 830.1,251.4 C827.9,250.5 825.8,249.2 823.9,248.2 C822.0,247.3 820.7,246.4 818.9,245.7 C817.0,245.1 814.5,245.0 812.6,244.5 C810.7,244.0 808.6,243.7 807.6,242.6 C806.6,241.4 806.3,239.4 806.3,237.6 C806.3,235.8 807.1,233.4 807.6,231.9 C808.1,230.5 808.2,229.7 809.5,228.8Z"/>
<path d="M815.1,231.6 C816.5,230.8 819.6,230.7 820.7,231.3 C821.9,231.9 822.1,233.9 822.0,235.1 C821.9,236.2 821.3,237.7 820.1,238.2 C819.0,238.7 816.4,238.6 815.1,238.2 C813.9,237.8 812.6,236.8 812.6,235.7 C812.6,234.6 813.8,232.3 815.1,231.6Z"/>
<path d="M776.5,222.1 C776.9,222.2 777.8,222.5 778.8,223.2 C779.8,223.9 781.8,224.3 782.5,226.3 C783.3,228.3 783.6,232.6 783.2,235.1 C782.8,237.6 781.6,239.7 780.0,241.3 C778.5,243.0 775.9,243.6 773.8,245.1 C771.7,246.6 769.0,248.0 767.5,250.1 C766.1,252.2 764.8,255.1 765.0,257.6 C765.2,260.1 766.9,263.1 768.8,265.1 C770.6,267.2 773.6,268.7 776.3,270.2 C779.0,271.6 781.5,273.1 785.1,273.9 C788.6,274.7 793.8,275.0 797.6,275.2 C801.3,275.4 804.9,274.5 807.6,275.2 C810.3,275.8 811.4,277.8 813.9,278.9 C816.4,280.1 819.7,281.2 822.6,282.0 C825.5,282.9 829.2,282.8 831.4,283.9 C833.6,285.1 834.6,287.3 835.8,288.9 C836.9,290.6 836.7,292.3 838.3,293.9 C839.8,295.6 843.7,297.3 845.2,299.0 C846.6,300.6 847.3,302.5 847.0,304.0 C846.8,305.4 845.2,305.8 843.9,307.7 C842.6,309.7 841.1,313.4 839.3,315.6 C837.5,317.7 834.9,319.0 833.1,320.6 C831.2,322.2 829.0,323.3 828.0,325.0 C827.1,326.7 827.0,328.7 827.4,330.6 C827.8,332.5 829.2,334.6 830.5,336.3 C831.9,337.9 834.1,339.5 835.6,340.6 C837.0,341.8 839.4,342.1 839.3,343.2 C839.2,344.2 837.0,346.0 834.9,346.9 C832.8,347.8 829.4,348.2 826.8,348.8 C824.2,349.4 821.3,349.5 819.3,350.7 C817.3,351.8 816.2,353.6 814.9,355.7 C813.5,357.8 812.3,360.3 811.1,363.2 C810.0,366.1 808.5,371.5 808.0,373.2"/>
<path d="M871.3,304.3 C873.8,302.9 875.7,300.9 878.1,299.3 C880.5,297.7 883.4,295.8 885.7,294.9 C888.0,294.1 889.8,293.9 891.9,294.3 C894.0,294.7 896.1,296.0 898.2,297.4 C900.3,298.9 902.8,301.0 904.4,303.1 C906.1,305.2 908.4,307.9 908.2,310.0 C908.0,312.0 904.8,313.8 903.2,315.6 C901.6,317.4 899.7,318.7 898.8,320.6 C897.9,322.5 897.7,324.6 897.6,326.9 C897.4,329.2 897.8,331.7 898.2,334.4 C898.6,337.1 899.5,340.0 900.1,343.2 C900.6,346.3 901.2,350.0 901.3,353.2 C901.4,356.3 901.3,359.6 900.7,361.9 C900.1,364.2 898.8,366.2 897.6,366.9 C896.3,367.7 895.2,367.2 893.2,366.3 C891.2,365.5 888.0,363.4 885.7,361.9 C883.4,360.5 880.9,359.2 879.4,357.6 C877.9,355.9 877.1,353.9 876.9,351.9 C876.7,349.9 877.4,347.6 878.1,345.7 C878.9,343.7 880.6,341.7 881.3,340.0 C881.9,338.3 882.4,337.2 881.9,335.6 C881.4,334.1 879.8,332.1 878.1,330.6 C876.5,329.2 874.0,327.7 871.9,326.9 C869.8,326.0 867.7,325.5 865.6,325.6 C863.5,325.7 861.6,326.9 859.4,327.5 C857.1,328.1 853.9,329.4 851.8,329.4 C849.8,329.4 847.9,328.3 846.8,327.5 C845.8,326.7 845.2,325.9 845.6,324.4 C846.0,322.8 847.7,320.2 849.3,318.1 C851.0,316.0 853.3,313.5 855.6,311.8 C857.9,310.2 860.5,309.3 863.1,308.1 C865.7,306.8 868.7,305.8 871.3,304.3Z"/>
<path d="M866.2,315.3 C866.0,313.4 869.7,311.2 871.9,309.3 C874.1,307.5 876.9,305.7 879.4,304.3 C881.9,303.0 884.6,301.6 886.9,301.2 C889.2,300.8 891.5,301.2 893.2,301.8 C894.8,302.4 896.2,303.5 896.9,304.9 C897.7,306.4 897.9,308.6 897.6,310.6 C897.2,312.6 895.8,314.6 895.0,316.8 C894.3,319.1 893.7,321.8 893.2,324.4 C892.6,327.0 892.7,331.4 891.7,332.5 C890.6,333.7 888.7,332.2 886.9,331.3 C885.1,330.3 882.9,328.5 880.6,326.9 C878.3,325.2 875.5,323.2 873.1,321.2 C870.7,319.3 866.5,317.3 866.2,315.3Z"/>
<path d="M891.7,332.5 C890.9,332.0 891.0,336.2 890.0,337.5 C889.0,338.9 886.8,339.3 885.7,340.6 C884.5,342.0 883.7,343.8 883.2,345.7 C882.6,347.5 882.1,350.1 882.5,351.9 C882.9,353.7 884.2,355.0 885.7,356.3 C887.1,357.6 889.5,359.7 891.3,359.4 C893.1,359.1 895.5,356.3 896.3,354.4 C897.1,352.5 896.6,350.5 896.3,348.2 C896.0,345.9 895.2,343.3 894.4,340.6 C893.7,338.0 892.4,333.0 891.7,332.5Z"/>
<path d="M877.5,310.6 C878.6,309.4 880.3,308.2 881.9,307.5 C883.5,306.7 885.3,305.8 886.9,306.2 C888.5,306.6 890.8,308.2 891.3,310.0 C891.8,311.7 890.7,314.7 890.0,316.8 C889.4,319.0 888.9,322.3 887.5,323.1 C886.2,323.9 883.6,322.7 881.9,321.9 C880.2,321.0 878.6,319.4 877.5,318.1 C876.5,316.8 875.6,315.6 875.6,314.3 C875.6,313.1 876.5,311.7 877.5,310.6Z"/>
<path d="M854.3,320.0 C854.3,319.2 857.5,318.0 858.7,318.1 C860.0,318.2 861.9,319.8 861.9,320.6 C861.9,321.4 860.0,322.8 858.7,322.7 C857.5,322.6 854.3,320.8 854.3,320.0Z"/>
<path d="M888.2,348.8 C888.5,348.3 890.7,347.0 891.3,347.3 C891.9,347.6 892.0,350.2 891.7,350.7 C891.4,351.1 890.0,350.4 889.4,350.0 C888.8,349.7 887.8,349.2 888.2,348.8Z"/>
<path d="M919.5,337.3 C920.8,337.1 922.0,338.3 922.6,339.4 C923.2,340.5 923.5,342.3 923.2,343.8 C922.9,345.2 921.6,346.9 920.7,348.2 C919.9,349.4 919.4,351.1 918.2,351.3 C917.1,351.5 914.9,350.6 913.8,349.4 C912.8,348.3 911.9,345.9 912.0,344.4 C912.1,342.9 913.2,341.8 914.5,340.6 C915.7,339.5 918.1,337.5 919.5,337.3Z"/>
<path d="M936.0,349.4 C935.2,349.6 932.8,349.8 931.4,350.7 C930.0,351.5 928.7,352.8 927.6,354.4 C926.6,356.1 926.3,358.8 925.1,360.7 C924.0,362.6 922.3,364.0 920.7,365.7 C919.2,367.4 916.4,369.0 915.7,370.7 C915.0,372.4 915.8,374.0 916.3,375.7 C916.9,377.4 918.1,378.9 918.8,380.7 C919.6,382.6 920.4,385.7 920.7,386.7"/>
<path d="M831.2,268.0 C832.3,268.2 835.5,269.3 838.1,269.3 C840.7,269.3 845.4,268.2 846.8,268.0"/>
<path d="M799.9,394.7 C800.7,393.2 803.0,388.8 804.3,385.3 C805.7,381.9 806.9,377.6 808.1,374.1 C809.2,370.5 810.2,367.0 811.2,364.0 C812.3,361.1 813.2,358.6 814.3,356.5 C815.5,354.4 816.6,352.7 818.1,351.5 C819.6,350.4 821.6,350.0 823.1,349.6 C824.6,349.2 826.2,349.1 826.9,349.0"/>
<path d="M799.9,441.7 C800.5,440.6 801.5,437.9 803.1,435.4 C804.6,432.9 807.2,429.4 809.3,426.7 C811.4,423.9 813.9,421.2 815.6,419.1 C817.3,417.1 817.9,415.7 819.4,414.1 C820.8,412.6 822.3,410.8 824.4,409.7 C826.5,408.7 829.2,408.1 831.9,407.9 C834.6,407.7 838.3,408.0 840.6,408.5 C842.9,409.0 844.2,410.3 845.7,411.0 C847.1,411.7 848.4,412.6 849.4,412.6 C850.5,412.6 850.9,411.9 851.9,411.0 C853.0,410.1 854.0,408.2 855.7,407.2 C857.3,406.3 859.6,405.5 861.9,405.4 C864.2,405.3 866.9,406.0 869.5,406.6 C872.0,407.2 875.0,408.2 877.0,409.1 C879.0,410.1 880.1,411.2 881.4,412.3 C882.6,413.3 883.1,415.2 884.5,415.4 C885.8,415.6 888.0,414.7 889.5,413.5 C891.0,412.4 892.2,410.3 893.3,408.5 C894.3,406.7 895.1,404.2 896.0,402.9 C896.9,401.5 897.5,401.6 898.5,400.4 C899.5,399.1 901.5,397.2 902.3,395.3 C903.0,393.5 903.2,391.1 902.9,389.1 C902.6,387.1 901.5,384.9 900.4,383.4 C899.2,382.0 896.7,380.8 896.0,380.3"/>
<path d="M828.1,419.8 C828.7,418.9 830.0,418.9 830.6,419.4 C831.3,419.9 831.9,421.6 831.9,422.9 C831.9,424.2 831.1,426.3 830.6,427.3 C830.1,428.2 829.3,429.0 828.7,428.5 C828.2,428.1 827.2,426.2 827.1,424.8 C827.0,423.3 827.5,420.7 828.1,419.8Z"/>
<path d="M790.5,467.7 C792.4,467.4 795.8,467.3 798.1,466.1 C800.4,464.9 802.4,462.7 804.3,460.5 C806.2,458.3 808.4,455.7 809.3,453.0 C810.3,450.2 809.3,446.7 810.0,444.2 C810.6,441.7 811.7,439.6 813.1,437.9 C814.4,436.3 816.5,435.1 818.1,434.2 C819.7,433.2 821.2,432.1 822.5,432.3 C823.7,432.5 824.9,433.9 825.6,435.4 C826.3,437.0 826.1,439.9 826.6,441.7 C827.1,443.5 827.7,445.0 828.7,446.1 C829.8,447.1 831.9,447.3 833.1,447.9 C834.4,448.6 835.3,448.9 836.3,449.8 C837.2,450.8 838.8,452.2 838.8,453.6 C838.8,454.9 837.0,456.4 836.3,458.0 C835.5,459.5 834.9,461.3 834.4,463.0 C833.9,464.6 833.7,465.9 833.1,467.7 C832.6,469.6 831.3,472.5 831.3,474.3 C831.3,476.0 832.1,476.8 833.1,478.0 C834.2,479.3 836.3,480.4 837.5,481.8 C838.8,483.1 840.4,484.9 840.6,486.2 C840.9,487.4 840.0,488.2 838.8,489.3 C837.5,490.3 835.1,491.4 833.1,492.4 C831.1,493.5 828.7,494.3 826.9,495.6 C825.0,496.8 823.4,499.2 821.9,499.9 C820.3,500.7 819.0,499.5 817.5,499.9 C815.9,500.4 814.0,501.1 812.5,502.4 C810.9,503.8 809.4,506.1 808.1,508.1 C806.7,510.1 805.1,512.3 804.3,514.3 C803.6,516.4 804.1,518.5 803.7,520.6 C803.3,522.7 802.9,525.4 801.8,526.9 C800.7,528.3 798.8,529.2 797.2,529.4 C795.6,529.6 793.6,529.1 792.2,528.1 C790.7,527.2 789.6,525.4 788.4,523.7 C787.3,522.1 786.3,519.9 785.3,518.1 C784.2,516.3 783.5,514.8 782.2,513.1 C780.8,511.4 778.7,510.0 777.1,508.1 C775.6,506.2 774.0,504.1 772.8,501.8 C771.5,499.5 770.4,496.8 769.6,494.3 C768.9,491.8 768.4,489.1 768.4,486.8 C768.4,484.5 768.6,482.2 769.6,480.5 C770.7,478.9 772.6,478.0 774.6,476.8 C776.7,475.5 780.1,474.5 782.2,473.0 C784.2,471.5 785.8,468.9 787.2,468.0 C788.6,467.1 788.7,468.1 790.5,467.7Z"/>
<path d="M789.3,474.0 C786.6,475.4 786.6,480.8 784.3,482.4 C782.0,484.0 777.3,482.9 775.5,483.7 C773.7,484.4 773.7,485.2 773.6,486.8 C773.5,488.4 774.2,491.2 774.9,493.1 C775.6,494.9 776.5,496.5 778.0,498.1 C779.6,499.6 782.4,501.0 784.3,502.4 C786.2,503.9 787.6,505.5 789.3,506.8 C791.0,508.2 792.7,510.8 794.3,510.6 C795.9,510.4 797.3,507.7 798.7,505.6 C800.0,503.5 801.4,500.8 802.4,498.1 C803.5,495.3 804.2,492.2 804.9,489.3 C805.7,486.4 806.7,482.8 806.8,480.5 C806.9,478.2 806.6,476.6 805.6,475.5 C804.5,474.4 803.3,474.3 800.6,474.0 C797.9,473.8 792.0,472.6 789.3,474.0Z"/>
<path d="M794.3,477.4 C795.8,477.2 799.2,478.3 799.9,479.9 C800.7,481.5 799.1,484.8 798.7,486.8 C798.3,488.8 798.2,490.4 797.4,491.8 C796.7,493.2 795.9,495.0 794.3,495.3 C792.7,495.6 790.0,494.3 788.0,493.7 C786.1,493.1 782.5,492.7 782.4,491.5 C782.3,490.4 786.0,488.5 787.4,486.8 C788.9,485.1 790.0,482.7 791.2,481.2 C792.3,479.6 792.8,477.6 794.3,477.4Z"/>
<path d="M872.0,349.0 C871.5,349.8 869.8,352.1 869.5,354.0 C869.1,355.9 869.2,358.6 870.1,360.3 C870.9,361.9 872.7,362.8 874.5,364.0 C876.2,365.3 878.8,366.4 880.7,367.8 C882.6,369.1 884.2,370.8 885.7,372.2 C887.3,373.5 888.4,374.6 890.1,375.9 C891.8,377.3 895.0,379.6 896.0,380.3"/>
<path d="M878.2,349.0 C878.1,349.8 877.2,352.2 877.6,354.0 C878.0,355.8 879.2,358.1 880.7,359.6 C882.3,361.2 885.1,362.4 887.0,363.4 C888.9,364.4 890.5,365.2 892.0,365.9 C893.5,366.6 894.7,368.1 896.0,367.8 C897.3,367.5 898.8,365.5 899.8,364.0 C900.7,362.6 901.4,360.9 901.6,359.0 C901.8,357.1 901.3,354.4 901.0,352.8 C900.7,351.1 900.0,349.6 899.8,349.0"/>
<path d="M882.0,349.0 C882.3,349.8 882.8,352.5 883.9,354.0 C884.9,355.5 886.9,356.9 888.2,357.8 C889.6,358.6 890.7,359.2 892.0,359.0 C893.3,358.8 895.3,356.9 896.0,356.5"/>
<path d="M887.0,349.0 C887.5,349.2 889.3,350.3 890.1,350.3 C891.0,350.3 891.7,349.2 892.0,349.0"/>
<path d="M896.0,459.8 C895.5,460.6 894.0,462.9 893.3,464.2 C892.5,465.5 891.5,466.4 891.4,467.7 C891.3,469.1 891.9,471.1 892.6,472.4 C893.4,473.7 894.8,474.2 896.0,475.5 C897.2,476.8 898.1,479.5 899.8,480.3 C901.4,481.1 903.9,480.0 906.0,480.3 C908.1,480.5 910.5,481.1 912.3,481.8 C914.1,482.4 915.5,484.4 916.7,484.3 C917.8,484.2 918.1,482.8 919.2,481.2 C920.2,479.5 921.7,476.5 922.9,474.3 C924.2,472.1 926.1,469.0 926.7,468.0"/>
<path d="M936.7,349.0 C935.7,349.4 931.9,350.3 930.4,351.5 C929.0,352.8 928.8,354.8 927.9,356.5 C927.1,358.2 926.7,359.9 925.4,361.5 C924.2,363.2 922.1,364.8 920.4,366.5 C918.8,368.3 916.0,370.3 915.4,372.2 C914.8,374.1 915.9,375.8 916.7,377.8 C917.4,379.8 918.9,382.2 919.8,384.1 C920.7,385.9 920.8,387.6 922.3,389.1 C923.8,390.5 926.3,391.6 928.6,392.8 C930.9,394.1 934.0,395.4 936.1,396.6 C938.2,397.7 939.4,398.1 941.1,399.7 C942.8,401.4 944.4,404.0 946.1,406.6 C947.8,409.2 949.6,412.5 951.1,415.4 C952.6,418.3 953.6,421.0 954.9,424.2 C956.1,427.3 957.6,431.2 958.6,434.2 C959.7,437.1 960.6,439.2 961.1,441.7 C961.7,444.2 961.4,446.9 961.8,449.2 C962.1,451.5 962.3,453.4 963.0,455.5 C963.7,457.6 965.0,459.7 966.1,461.7 C967.3,463.8 968.7,465.5 969.9,467.7 C971.0,469.9 972.1,472.5 973.0,474.9 C974.0,477.2 975.0,479.6 975.5,481.8 C976.1,484.0 975.6,485.7 976.2,488.0 C976.7,490.3 977.8,493.3 978.7,495.6 C979.5,497.9 980.3,500.2 981.2,501.8 C982.0,503.4 982.7,504.9 983.7,505.3 C984.6,505.7 986.3,504.5 986.8,504.3"/>
<path d="M965.3,349.0 C965.7,350.4 966.6,354.8 968.0,357.1 C969.4,359.4 971.9,361.0 973.7,362.8 C975.4,364.6 977.5,365.7 978.4,367.8 C979.4,369.9 979.4,372.6 979.3,375.3 C979.2,378.0 977.8,381.6 978.0,384.1 C978.2,386.6 979.6,388.5 980.5,390.3 C981.5,392.2 982.8,393.5 983.7,395.3 C984.5,397.2 985.0,399.8 985.6,401.6 C986.1,403.4 986.6,405.3 986.8,406.0"/>
<path d="M912.9,349.0 C913.8,349.4 917.3,351.5 918.5,351.5 C919.8,351.5 920.1,349.4 920.4,349.0"/>
<path d="M896.0,459.2 C896.5,457.1 898.1,450.9 899.1,446.7 C900.2,442.5 901.0,437.3 902.3,434.2 C903.5,431.0 904.8,429.5 906.6,427.9 C908.5,426.3 911.1,425.4 913.5,424.8 C915.9,424.2 918.5,423.9 921.1,424.2 C923.6,424.4 926.5,425.1 928.6,426.0 C930.7,427.0 932.3,428.2 933.6,429.8 C934.8,431.4 936.0,433.0 936.1,435.4 C936.2,437.8 934.8,441.3 934.2,444.2 C933.6,447.1 933.1,450.0 932.3,453.0 C931.6,455.9 930.7,459.3 929.8,461.7 C929.0,464.2 927.7,466.7 927.3,467.7"/>
<path d="M908.5,461.7 C908.7,459.8 910.2,457.6 910.4,455.5 C910.6,453.4 909.6,451.5 909.8,449.2 C910.0,446.9 910.6,443.8 911.7,441.7 C912.7,439.6 914.4,437.9 916.0,436.7 C917.7,435.4 920.1,434.2 921.7,434.2 C923.2,434.2 924.6,435.4 925.4,436.7 C926.3,437.9 926.7,439.6 926.7,441.7 C926.7,443.8 926.1,446.9 925.4,449.2 C924.8,451.5 924.1,453.5 922.9,455.5 C921.8,457.4 919.9,459.4 918.5,461.1 C917.2,462.8 916.0,464.3 914.8,465.5 C913.5,466.6 912.0,467.8 911.0,468.0 C910.1,468.2 909.6,467.8 909.2,466.7 C908.7,465.7 908.3,463.6 908.5,461.7Z"/>
<path d="M812.5,586.7 C812.3,585.9 811.6,584.0 811.2,582.0 C810.8,579.9 809.9,577.0 810.0,574.5 C810.1,572.0 810.9,569.0 811.8,566.9 C812.8,564.9 813.9,563.2 815.6,561.9 C817.3,560.7 820.3,560.3 821.9,559.4 C823.4,558.6 824.3,558.0 825.0,556.9 C825.7,555.9 825.8,553.4 826.2,553.2 C826.7,553.0 827.4,554.6 827.5,555.7 C827.6,556.7 827.2,558.0 826.9,559.4 C826.6,560.9 824.6,562.9 825.6,564.4 C826.7,566.0 830.8,567.6 833.1,568.8 C835.4,570.1 837.6,571.3 839.4,572.0 C841.2,572.6 842.5,573.0 843.8,572.6 C845.0,572.2 846.5,571.0 846.9,569.5 C847.3,567.9 846.2,565.1 846.3,563.2 C846.4,561.3 846.8,559.4 847.5,558.2 C848.3,556.9 849.1,556.3 850.7,555.7 C852.2,555.0 855.8,555.9 856.9,554.4 C858.1,553.0 858.0,549.2 857.6,546.9 C857.1,544.6 855.8,542.5 854.4,540.6 C853.1,538.8 851.3,537.1 849.4,535.6 C847.5,534.2 844.9,533.3 843.2,531.9 C841.4,530.4 839.6,528.7 838.8,526.9 C837.9,525.0 837.9,522.7 838.1,520.6 C838.3,518.5 839.0,516.2 840.0,514.3 C841.1,512.5 842.7,510.7 844.4,509.3 C846.1,508.0 848.2,506.6 850.0,506.2 C851.9,505.8 853.4,506.2 855.7,506.8 C858.0,507.5 861.7,508.7 863.8,510.0 C865.9,511.2 866.7,512.8 868.2,514.3 C869.7,515.9 871.3,517.8 872.6,519.4 C873.8,520.9 874.6,522.3 875.7,523.7 C876.9,525.2 878.4,526.6 879.5,528.1 C880.5,529.7 880.9,531.6 882.0,533.1 C883.0,534.7 884.3,536.3 885.7,537.5 C887.2,538.8 889.0,540.0 890.7,540.6 C892.5,541.3 894.6,541.9 896.0,541.6 C897.4,541.4 898.2,540.4 899.1,539.4 C900.1,538.4 900.5,536.6 901.6,535.6 C902.8,534.7 904.2,534.2 906.0,533.8 C907.8,533.3 910.2,533.1 912.3,533.1 C914.4,533.1 917.5,533.7 918.5,533.8"/>
<path d="M941.7,551.3 C942.1,552.4 943.1,556.2 944.2,558.2 C945.4,560.2 947.0,561.5 948.6,563.2 C950.2,564.9 951.7,566.4 953.6,568.2 C955.5,570.0 958.1,572.0 959.9,573.8 C961.7,575.7 963.0,577.9 964.3,579.5 C965.5,581.0 967.1,582.0 967.4,583.2 C967.7,584.4 966.3,586.2 966.1,586.7"/>
<path d="M896.0,481.8 C894.5,481.8 892.0,482.6 890.7,483.7 C889.5,484.7 888.3,486.3 888.2,488.0 C888.1,489.8 889.3,492.5 890.1,494.3 C891.0,496.1 892.3,497.6 893.3,498.7 C894.2,499.7 894.9,499.8 896.0,500.6 C897.1,501.3 898.4,502.3 899.8,503.1 C901.1,503.8 902.8,505.1 904.1,504.9 C905.5,504.8 906.6,503.5 907.9,502.4 C909.2,501.4 911.1,499.9 911.7,498.7 C912.2,497.4 911.8,496.1 911.3,494.9 C910.8,493.8 909.8,492.9 908.5,491.8 C907.2,490.6 905.0,489.4 903.5,488.0 C902.1,486.7 901.0,484.7 899.8,483.7 C898.5,482.6 897.5,481.8 896.0,481.8Z"/>
<path d="M854.4,586.7 C854.6,585.1 855.2,579.7 855.7,577.0 C856.2,574.2 856.3,571.5 857.6,570.1 C858.8,568.6 861.2,568.5 863.2,568.2 C865.2,567.9 867.6,567.6 869.5,568.2 C871.3,568.8 873.0,570.3 874.5,572.0 C875.9,573.6 877.3,575.8 878.2,578.2 C879.2,580.7 879.8,585.3 880.1,586.7"/>
<path d="M921.7,586.7 C921.2,585.5 919.8,581.9 918.5,579.5 C917.3,577.0 915.3,574.7 914.2,572.0 C913.0,569.2 912.5,566.1 911.7,563.2 C910.8,560.3 909.7,556.9 909.2,554.4 C908.6,551.9 908.0,549.9 908.3,548.2 C908.6,546.4 909.7,544.7 911.0,543.8 C912.3,542.8 914.4,542.4 916.0,542.5 C917.7,542.6 919.3,543.3 921.1,544.4 C922.8,545.6 924.9,547.8 926.7,549.4 C928.5,551.0 930.5,552.3 931.7,553.8 C932.8,555.3 933.2,556.4 933.6,558.2 C934.0,560.0 933.4,562.6 934.2,564.4 C935.0,566.3 936.6,567.8 938.6,569.5 C940.6,571.1 943.8,572.9 946.1,574.5 C948.4,576.0 950.5,577.4 952.4,578.8 C954.2,580.3 956.3,581.9 957.4,583.2 C958.4,584.5 958.4,586.2 958.6,586.7"/>
<path d="M921.7,560.7 C922.2,559.3 925.0,558.0 926.1,558.2 C927.2,558.4 928.2,560.5 928.3,561.9 C928.4,563.4 927.6,566.2 926.7,566.9 C925.8,567.7 923.8,567.4 922.9,566.3 C922.1,565.3 921.2,562.0 921.7,560.7Z"/>
<path d="M932.3,586.7 C932.0,585.9 930.4,583.5 930.4,582.0 C930.4,580.5 931.3,578.6 932.3,577.6 C933.4,576.6 935.0,575.6 936.7,575.7 C938.4,575.8 940.6,577.4 942.3,578.2 C944.1,579.1 945.8,579.7 947.4,580.7 C948.9,581.8 950.8,583.5 951.7,584.5 C952.7,585.5 952.8,586.4 953.0,586.7"/>
</g>
<g font-family="'Liberation Sans',sans-serif" font-size="10.8" fill="#6a6a6a" text-anchor="middle">
<text transform="translate(96.2,230.0) rotate(73)" y="3.7">1000</text>
<text transform="translate(184.0,503.2) rotate(58)" y="3.7">1000</text>
<text transform="translate(569.8,634.5) rotate(83)" y="3.7">3000</text>
<text transform="translate(691.0,623.0) rotate(85)" y="3.7">4000</text>
<text transform="translate(306.0,531.0) rotate(-2)" y="3.7">2000</text>
<text transform="translate(672.2,162.0) rotate(83)" y="3.7">2000</text>
<text transform="translate(736.5,140.8) rotate(-88)" y="3.7">3000</text>
<text transform="translate(774.1,425.4) rotate(-40)" y="3.7">3000</text>
<text transform="translate(910.0,221.0) rotate(90)" y="3.7">4000</text>
<text transform="translate(968.4,323.1) rotate(-90)" y="3.7">4000</text>
<text transform="translate(797.6,226.3) rotate(-70)" y="3.7">4000</text>
<text transform="translate(931.7,540.0) rotate(35)" y="3.7">5000</text>
</g>
<g stroke="#111" stroke-width="0.6" fill="none" stroke-linejoin="round">
<path d="M85.0,118.8 L83.8,149.5 L82.2,183.2 L79.5,232.0 L75.8,287.0 L71.0,344.0"/>
<path d="M82.2,183.2 L128.2,185.0 L211.5,188.8 L288.0,192.5"/>
<path d="M226.5,118.8 L220.8,132.0 L215.8,154.5 L212.0,177.0 L211.2,188.8 L211.5,197.0 L213.0,212.0 L212.5,237.0"/>
<path d="M757.8,592.5 L765.2,600.2 L765.6,605.2 L764.0,609.4 L761.5,612.8"/>
<path d="M761.2,599.4 L761.5,603.8 L759.8,608.1 L758.5,612.5"/>
<path d="M900.5,580.0 L899.8,615.8"/>
<path d="M963.0,580.0 L968.0,587.5 L969.2,595.0 L974.2,601.2 L986.8,601.2"/>
<path d="M288.0,192.5 L348.0,195.2 L408.5,198.2 L478.0,200.8 L544.0,203.2"/>
<path d="M411.5,118.8 L410.5,149.5 L409.2,177.0 L408.5,198.2"/>
<path d="M544.0,203.2 L586.5,204.0 L590.2,207.2 L634.0,207.8 L677.8,209.5 L707.8,210.2 L708.5,206.0 L744.0,206.5 L775.2,207.2 L800.0,207.8"/>
<path d="M608.5,118.8 L608.2,132.0"/>
<path d="M774.5,193.2 C775.2,192.2 776.8,189.1 779.0,187.0 C781.2,184.9 784.2,182.6 787.8,180.8 C791.2,178.9 798.0,176.6 800.0,175.8"/>
<path d="M798.8,290.0 L800.0,290.0"/>
<path d="M583.5,369.0 L583.5,374.1 L584.3,379.1 L583.8,381.8 L575.9,383.4 L573.4,387.8 L569.7,389.3 L567.5,394.7 L570.6,397.2 L576.6,391.6"/>
<path d="M797.3,349.0 L800.0,350.9"/>
<path d="M672.0,541.6 L694.3,541.3 L694.8,524.4 L695.8,499.3 L696.4,476.5 L730.9,477.0 L759.7,477.8 L787.2,478.3 L790.4,474.0 L800.0,473.6"/>
<path d="M672.0,541.4 L634.8,541.3 L633.9,555.7 L633.3,578.2"/>
<path d="M799.9,175.8 C800.5,175.6 800.0,175.2 803.1,174.6 C806.1,174.0 813.7,172.7 818.1,172.1 C822.5,171.5 825.8,172.4 829.4,170.9 C832.9,169.3 836.3,164.9 839.4,162.7 C842.5,160.5 845.4,159.2 848.2,157.7 C850.9,156.3 853.9,155.6 855.7,154.0 C857.4,152.3 858.1,149.9 858.8,147.7 C859.5,145.5 859.7,143.0 859.7,140.8 C859.6,138.6 858.7,136.8 858.4,134.5 C858.2,132.2 859.0,129.6 858.2,127.0 C857.4,124.4 854.3,120.2 853.5,118.9"/>
<path d="M799.9,207.8 L839.4,208.7 L868.2,209.4 L896.0,210.3 L905.4,211.6 L911.0,210.9 L912.3,209.7"/>
<path d="M913.5,118.9 L913.3,149.6 L912.9,174.6 L912.7,209.4 L909.8,211.8 L909.5,232.0 L909.3,241.6 L909.2,268.6 L908.5,306.2 L907.6,349.7"/>
<path d="M909.3,241.3 L942.3,241.6 L971.2,242.3 L987.1,242.6"/>
<path d="M799.2,289.6 L799.7,289.6 L799.7,290.2 L799.2,290.2Z"/>
<path d="M840.6,384.1 C842.1,384.5 846.5,386.2 849.4,386.6 C852.3,387.0 854.6,385.6 858.2,386.3 C861.7,387.1 866.5,389.8 870.7,391.0 C874.9,392.1 879.0,392.6 883.2,393.5 C887.4,394.4 892.8,395.6 896.0,396.3 C899.2,397.1 900.0,397.2 902.3,397.8 C904.6,398.5 908.5,399.7 909.8,400.1"/>
<path d="M909.8,400.1 L924.8,400.1 L941.1,399.7"/>
<path d="M941.1,399.7 C941.9,399.3 944.4,398.0 946.1,397.2 C947.8,396.5 949.5,395.6 951.1,395.3 C952.7,395.1 954.2,395.2 955.5,395.6 C956.7,396.0 957.6,397.1 958.6,397.8 C959.7,398.6 960.2,399.7 961.8,400.1 C963.3,400.5 965.8,400.7 968.0,400.1 C970.2,399.5 972.7,397.6 974.9,396.6 C977.1,395.6 979.2,394.8 981.2,394.1 C983.2,393.4 985.9,392.8 986.8,392.6"/>
<path d="M946.1,398.1 C947.1,398.2 950.5,398.1 952.4,398.5 C954.2,398.8 955.8,399.8 957.4,400.1 C958.9,400.4 961.0,400.1 961.8,400.1"/>
<path d="M907.9,349.0 L907.5,386.6 L907.0,411.6 L906.3,436.7 L905.8,467.7 L905.8,476.5 L905.4,504.3 L902.3,506.2 L901.6,530.6 L901.0,561.9 L900.4,586.7"/>
<path d="M941.1,399.7 L941.7,411.6 L941.3,436.7 L939.2,449.2 L938.0,467.7 L937.6,493.7 L937.3,504.3 L939.8,509.3 L941.3,515.6 L943.6,523.1 L946.7,533.1 L949.9,535.4 L963.9,536.3 L963.6,555.7 L963.4,577.0 L966.1,580.7 L968.0,584.5"/>
<path d="M957.4,400.1 L957.4,410.4 L962.4,415.4 L966.8,420.6 L971.2,421.0 L978.4,421.4 L978.7,429.2 L981.2,437.3 L986.8,445.4"/>
<path d="M799.9,474.0 L818.1,474.9 L848.2,475.5 L874.5,476.1 L896.0,476.5 L905.8,476.5"/>
<path d="M848.8,497.4 C849.9,497.0 853.3,496.1 855.7,494.9 C858.1,493.8 860.5,492.0 863.2,490.5 C865.9,489.1 868.2,487.7 872.0,486.2 C875.7,484.6 881.7,482.1 885.7,481.2 C889.7,480.2 893.3,480.0 896.0,480.5 C898.8,481.0 900.0,482.9 902.3,484.3 C904.6,485.6 907.5,487.4 909.8,488.7 C912.1,489.9 914.2,491.0 916.0,491.8 C917.9,492.6 917.5,493.1 921.1,493.4 C924.6,493.7 932.9,493.7 937.3,493.7 C941.7,493.7 944.8,493.8 947.4,493.4 C949.9,493.0 950.5,492.1 952.4,491.2 C954.2,490.3 956.5,488.9 958.6,488.0 C960.7,487.2 963.0,486.8 964.9,486.2 C966.8,485.5 967.8,484.6 969.9,484.3 C972.0,483.9 975.3,484.2 977.4,484.0 C979.5,483.8 980.9,483.1 982.4,483.0 C984.0,483.0 986.1,483.6 986.8,483.7"/>
<path d="M848.8,497.4 L861.9,498.3 L863.8,506.8 L866.9,515.6 L868.2,519.4 L870.1,520.0 L870.7,522.9 L875.7,523.4 L876.3,526.9 L875.1,528.7 L877.0,531.9 L875.7,534.4 L877.6,536.9 L878.8,540.0 L883.2,540.4 L884.5,543.2 L888.9,543.8 L891.4,544.4 L893.3,553.2 L896.0,561.9 L899.8,566.9 L904.1,571.3"/>
<path d="M963.9,541.3 L977.4,541.3 L986.8,543.2"/>
</g>
<g stroke="#111" stroke-width="0.85" fill="none" stroke-linejoin="round">
<path d="M212.5,237.0 L221.2,240.0 L239.5,255.0 L245.8,267.0 L249.0,275.8 L244.5,287.0 L242.0,302.0 L239.5,324.5 L237.0,334.5 L230.8,349.0"/>
<path d="M249.0,275.8 L252.0,283.2 L260.0,290.8 L267.0,291.2 L282.0,296.5 L288.0,297.5"/>
<path d="M230.8,349.0 C230.1,351.1 227.7,357.3 227.0,361.5 C226.3,365.7 226.4,369.8 226.5,374.0 C226.6,378.2 227.8,382.3 227.5,386.5 C227.2,390.7 225.6,395.4 224.5,399.0 C223.4,402.6 221.4,406.7 220.8,408.2"/>
<path d="M756.9,586.8 L757.2,588.8 L757.8,592.5 L761.2,599.4 L758.8,602.2 L756.0,606.5 L754.4,610.2 L755.0,612.8"/>
<path d="M786.6,586.8 L783.8,590.0 L782.5,594.4 L777.5,598.8 L772.5,602.5 L767.5,605.6 L766.2,607.5 L763.8,610.6 L761.9,612.5"/>
<path d="M288.0,297.5 L308.0,299.5 L328.0,303.2 L348.0,307.0 L363.0,309.5 L375.5,309.5 L384.2,312.0 L398.0,312.8 L403.0,314.0 L406.8,312.8 L415.5,313.2 L418.0,315.0 L428.0,317.5 L431.8,323.2 L438.0,334.5 L447.5,349.0"/>
<path d="M447.5,349.0 C448.8,351.1 452.5,356.9 455.5,361.5 C458.5,366.1 462.4,371.9 465.5,376.5 C468.6,381.1 470.5,384.8 474.2,389.0 C478.0,393.2 484.0,398.8 488.0,401.5 C492.0,404.2 494.7,404.8 498.0,405.2 C501.3,405.7 503.8,404.7 508.0,404.0 C512.2,403.3 518.4,403.9 523.0,401.0 C527.6,398.1 532.0,389.8 535.5,386.5 C539.0,383.2 542.6,381.9 544.0,381.0"/>
<path d="M586.5,118.8 L600.2,128.2 L607.8,132.0 L626.5,144.5 L644.0,159.0 L654.0,172.0 L666.5,190.8 L677.8,209.5 L680.2,213.2 L697.8,233.2 L714.0,250.8 L726.5,264.5 L739.0,277.0 L746.5,287.0 L752.0,294.5 L756.5,302.0 L758.2,309.5 L758.2,318.2"/>
<path d="M711.0,118.8 L719.0,125.8 L727.8,138.2 L736.5,153.2 L744.0,159.5 L751.5,163.2 L759.0,172.0 L761.5,177.0 L769.0,185.8 L774.5,193.2 L775.2,207.2 L777.0,219.5 L774.5,229.5 L773.5,242.0 L765.2,249.5 L761.5,262.0 L759.5,272.0 L759.0,294.5 L752.0,294.5"/>
<path d="M758.2,318.2 L756.0,329.5 L754.0,349.0"/>
<path d="M758.2,318.2 L763.2,321.0 L770.0,325.5 L779.8,332.0 L782.2,334.5 L784.0,338.5 L786.0,340.8 L798.0,349.5"/>
<path d="M763.2,308.2 L777.0,319.0"/>
<path d="M756.0,323.2 L747.8,323.2 L739.0,322.5 L729.0,325.8 L714.0,332.0 L694.0,340.8 L674.5,349.0"/>
<path d="M544.0,381.3 L552.8,375.9 L569.1,372.2 L583.5,369.0 L592.8,367.2 L604.1,366.5 L622.3,366.3 L636.7,360.5 L650.5,355.3 L660.5,355.3 L672.0,350.3 L675.0,349.0"/>
<path d="M660.5,355.3 L654.2,365.3 L646.7,377.8 L640.4,387.8 L637.3,394.1 L636.4,399.1 L636.1,407.9 L634.8,419.1 L633.2,429.2 L633.2,434.8 L621.7,441.7 L619.2,447.3 L613.5,456.7 L609.1,464.2 L607.3,467.7 L605.6,474.3 L606.0,484.3 L605.4,494.3 L597.9,508.1 L590.3,521.9 L588.8,530.6 L588.5,539.4 L586.6,549.4 L587.2,556.3"/>
<path d="M753.7,349.0 C753.6,352.1 753.6,361.5 753.4,367.8 C753.3,374.1 752.7,380.9 752.8,386.6 C752.9,392.2 753.8,396.6 754.0,401.6 C754.2,406.6 754.2,412.5 754.0,416.6 C753.8,420.8 753.4,423.3 752.8,426.7 C752.2,430.0 751.4,433.1 750.3,436.7 C749.1,440.2 747.5,444.4 745.9,447.9 C744.3,451.5 742.5,454.7 740.9,458.0 C739.3,461.3 737.8,465.2 736.5,467.7 C735.3,470.2 734.4,471.3 733.4,473.0 C732.3,474.7 731.0,476.1 730.2,478.0 C729.4,479.9 728.7,481.4 728.6,484.3 C728.5,487.2 729.1,491.6 729.6,495.6 C730.1,499.5 731.1,504.3 731.5,508.1 C731.9,511.8 732.0,515.0 731.9,518.1 C731.8,521.2 730.9,524.2 730.9,526.9 C730.8,529.6 731.1,532.3 731.5,534.4 C731.9,536.5 732.0,537.5 733.4,539.4 C734.7,541.3 738.2,543.6 739.6,545.7 C741.1,547.7 741.3,549.6 742.1,551.9 C743.0,554.2 743.8,556.9 744.6,559.4 C745.5,561.9 746.1,565.1 747.2,566.9 C748.2,568.8 749.7,569.7 750.9,570.7 C752.2,571.7 753.8,571.7 754.7,573.2 C755.5,574.7 755.8,577.2 756.2,579.5 C756.5,581.7 756.8,585.5 756.9,586.7"/>
<path d="M800.0,560.1 C799.8,561.2 799.5,565.0 798.8,566.9 C798.0,568.9 796.7,569.9 795.4,572.0 C794.1,574.0 792.4,577.0 791.0,579.5 C789.5,581.9 787.3,585.5 786.6,586.7"/>
<path d="M796.8,349.0 L811.8,360.3 L826.9,372.8 L840.6,384.1"/>
<path d="M840.6,384.1 L844.4,395.3 L848.2,405.4 L849.4,412.9 L847.5,421.6 L843.2,430.4 L840.0,431.7 L836.9,436.7 L835.6,442.9 L832.5,443.9 L832.5,449.2 L835.6,455.5 L839.4,463.0 L842.5,467.7 L846.9,476.8 L848.4,480.5 L848.8,497.4"/>
<path d="M848.8,497.4 L843.2,499.3 L838.1,502.4 L830.6,504.9 L830.4,509.3 L828.1,520.6 L825.6,533.1 L823.7,539.4 L817.5,544.4 L811.8,550.0 L806.8,551.3 L802.4,555.0 L799.9,560.7"/>
</g>
<g stroke="#000" stroke-width="1.25" fill="none" stroke-linejoin="round">
<path d="M37.5,330.8 L79.5,348.2 L160.0,382.6 L288.0,436.8 L416.0,489.8 L544.0,542.2 L656.0,587.2 L718.0,611.7 L762.5,612.9 L828.0,614.4 L899.2,615.8 L987.0,617.5"/>
<path d="M37.5,602.5 L52.0,610.5 L84.5,620.5 L100.8,627.5 L114.5,635.5 L129.5,646.2 L132.0,663.2"/>
</g>
</g>
<rect x="92.900" y="753.9" width="52.969" height="48.95" fill="#ffffff"/>
<rect x="145.269" y="753.9" width="52.969" height="48.95" fill="#00ecec"/>
<rect x="197.637" y="753.9" width="52.969" height="48.95" fill="#669df5"/>
<rect x="250.006" y="753.9" width="52.969" height="48.95" fill="#3333ff"/>
<rect x="302.375" y="753.9" width="52.969" height="48.95" fill="#00ff00"/>
<rect x="354.744" y="753.9" width="52.969" height="48.95" fill="#00c800"/>
<rect x="407.112" y="753.9" width="52.969" height="48.95" fill="#008000"/>
<rect x="459.481" y="753.9" width="52.969" height="48.95" fill="#ffff00"/>
<rect x="511.850" y="753.9" width="52.969" height="48.95" fill="#e7c000"/>
<rect x="564.219" y="753.9" width="52.969" height="48.95" fill="#ff9000"/>
<rect x="616.587" y="753.9" width="52.969" height="48.95" fill="#ff3000"/>
<rect x="668.956" y="753.9" width="52.969" height="48.95" fill="#c01800"/>
<rect x="721.325" y="753.9" width="52.969" height="48.95" fill="#800000"/>
<rect x="773.694" y="753.9" width="52.969" height="48.95" fill="#ff00ff"/>
<rect x="826.062" y="753.9" width="52.969" height="48.95" fill="#9955c9"/>
<rect x="878.431" y="753.9" width="52.369" height="48.95" fill="#d3d3d3"/>

<g font-family="'Liberation Sans',sans-serif" fill="#111">
<text id="tl" x="36" y="110" font-size="19.5">2025-12-09 08:30AM MST</text>
<text id="tc" x="395.6" y="105" font-size="24.3">Total Precipitation (in)</text>
<text id="tr" x="783" y="107" font-size="19.6">2025-12-09_15:30:00 Z</text>
<text id="cap" x="107.4" y="723" font-size="26.24">U of A Dept of Hydrology and Atmospheric Sciences WRF-HRRR 18Z</text>
<g id="labels" font-size="20" text-anchor="middle" transform="translate(0,833) scale(1,1.124)">
<text x="145.375" y="0">0.01</text>
<text x="197.75" y="0">0.10</text>
<text x="250.125" y="0">0.25</text>
<text x="302.5" y="0">0.40</text>
<text x="354.875" y="0">0.7</text>
<text x="407.25" y="0">1.0</text>
<text x="459.625" y="0">1.25</text>
<text x="512" y="0">1.75</text>
<text x="564.375" y="0">2.5</text>
<text x="616.75" y="0">3.0</text>
<text x="669.125" y="0">4.0</text>
<text x="721.5" y="0">5.0</text>
<text x="773.875" y="0">6.0</text>
<text x="826.25" y="0">8.0</text>
<text x="878.625" y="0">10.0</text>
</g>
</g>

</svg>
</body></html>
